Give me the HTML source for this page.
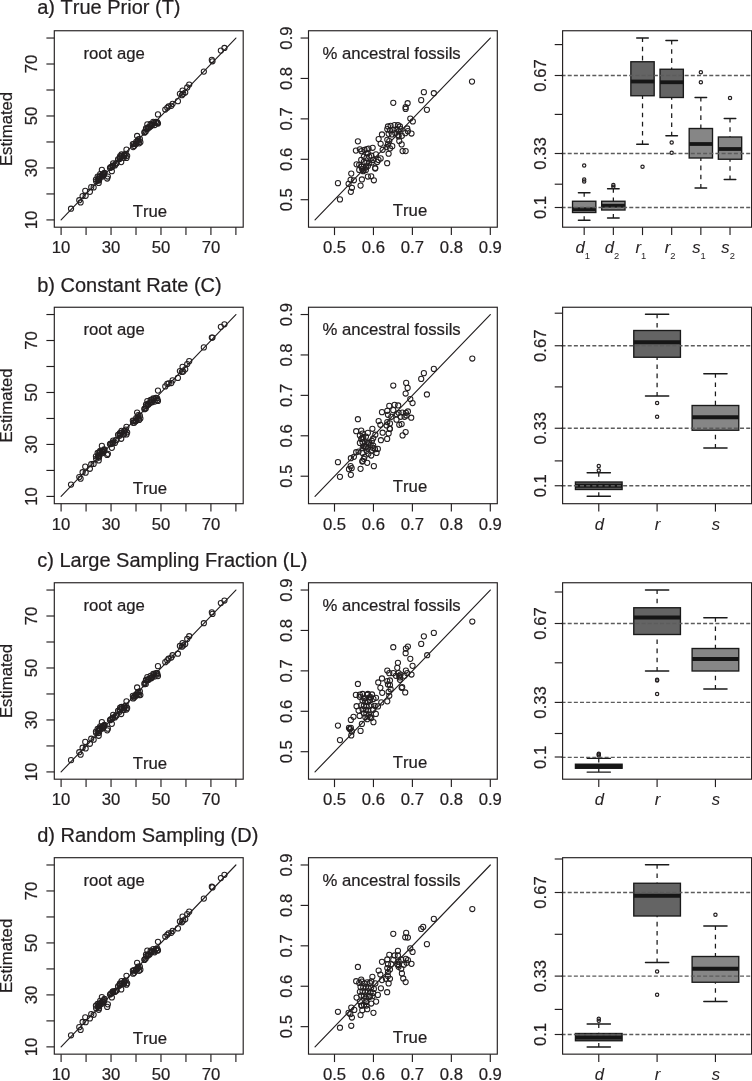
<!DOCTYPE html>
<html lang="en">
<head>
<meta charset="utf-8">
<title>Figure</title>
<style>
html,body{margin:0;padding:0;background:#fff;}
body{width:752px;height:1081px;overflow:hidden;font-family:"Liberation Sans",sans-serif;}
svg{display:block;will-change:transform;font-kerning:none;}
</style>
</head>
<body>
<svg width="752" height="1081" viewBox="0 0 752 1081" font-family="'Liberation Sans', sans-serif" fill="#231f20">
<style>text{stroke:#231f20;stroke-width:0.22px;}text[font-style=italic]{stroke-width:0.05px;}text[font-style=italic] tspan{stroke-width:0;}</style>
<rect x="0" y="0" width="752" height="1081" fill="#ffffff"/>
<text x="37.2" y="14.3" font-size="20.0" text-anchor="start">a) True Prior (T)</text>
<line x1="61.1" y1="219.92" x2="235.89" y2="38.03" stroke="#231f20" stroke-width="1.15" stroke-linecap="round"/>
<circle cx="220.86" cy="50.61" r="2.6" fill="none" stroke="#231f20" stroke-width="1.05"/>
<circle cx="224.45" cy="47.95" r="2.6" fill="none" stroke="#231f20" stroke-width="1.05"/>
<circle cx="211.82" cy="59.92" r="2.6" fill="none" stroke="#231f20" stroke-width="1.05"/>
<circle cx="212.48" cy="61.25" r="2.6" fill="none" stroke="#231f20" stroke-width="1.05"/>
<circle cx="203.84" cy="71.62" r="2.6" fill="none" stroke="#231f20" stroke-width="1.05"/>
<circle cx="189.21" cy="84.52" r="2.6" fill="none" stroke="#231f20" stroke-width="1.05"/>
<circle cx="187.22" cy="87.45" r="2.6" fill="none" stroke="#231f20" stroke-width="1.05"/>
<circle cx="185.22" cy="92.5" r="2.6" fill="none" stroke="#231f20" stroke-width="1.05"/>
<circle cx="182.56" cy="90.51" r="2.6" fill="none" stroke="#231f20" stroke-width="1.05"/>
<circle cx="179.9" cy="93.83" r="2.6" fill="none" stroke="#231f20" stroke-width="1.05"/>
<circle cx="181.9" cy="95.16" r="2.6" fill="none" stroke="#231f20" stroke-width="1.05"/>
<circle cx="183.23" cy="93.83" r="2.6" fill="none" stroke="#231f20" stroke-width="1.05"/>
<circle cx="177.91" cy="101.14" r="2.6" fill="none" stroke="#231f20" stroke-width="1.05"/>
<circle cx="172.59" cy="103.8" r="2.6" fill="none" stroke="#231f20" stroke-width="1.05"/>
<circle cx="171.26" cy="105.8" r="2.6" fill="none" stroke="#231f20" stroke-width="1.05"/>
<circle cx="168.6" cy="106.46" r="2.6" fill="none" stroke="#231f20" stroke-width="1.05"/>
<circle cx="167.27" cy="107.79" r="2.6" fill="none" stroke="#231f20" stroke-width="1.05"/>
<circle cx="165.28" cy="109.52" r="2.6" fill="none" stroke="#231f20" stroke-width="1.05"/>
<circle cx="157.96" cy="114.44" r="2.6" fill="none" stroke="#231f20" stroke-width="1.05"/>
<circle cx="157.3" cy="123.09" r="2.6" fill="none" stroke="#231f20" stroke-width="1.05"/>
<circle cx="155.97" cy="121.76" r="2.6" fill="none" stroke="#231f20" stroke-width="1.05"/>
<circle cx="153.31" cy="121.76" r="2.6" fill="none" stroke="#231f20" stroke-width="1.05"/>
<circle cx="150.65" cy="123.75" r="2.6" fill="none" stroke="#231f20" stroke-width="1.05"/>
<circle cx="147.32" cy="124.41" r="2.6" fill="none" stroke="#231f20" stroke-width="1.05"/>
<circle cx="151.98" cy="125.08" r="2.6" fill="none" stroke="#231f20" stroke-width="1.05"/>
<circle cx="148.65" cy="127.07" r="2.6" fill="none" stroke="#231f20" stroke-width="1.05"/>
<circle cx="145.99" cy="128.4" r="2.6" fill="none" stroke="#231f20" stroke-width="1.05"/>
<circle cx="71.02" cy="208.72" r="2.6" fill="none" stroke="#231f20" stroke-width="1.05"/>
<circle cx="79.27" cy="200.21" r="2.6" fill="none" stroke="#231f20" stroke-width="1.05"/>
<circle cx="80.6" cy="202.47" r="2.6" fill="none" stroke="#231f20" stroke-width="1.05"/>
<circle cx="82.59" cy="196.09" r="2.6" fill="none" stroke="#231f20" stroke-width="1.05"/>
<circle cx="85.65" cy="195.82" r="2.6" fill="none" stroke="#231f20" stroke-width="1.05"/>
<circle cx="85.25" cy="190.77" r="2.6" fill="none" stroke="#231f20" stroke-width="1.05"/>
<circle cx="89.9" cy="191.84" r="2.6" fill="none" stroke="#231f20" stroke-width="1.05"/>
<circle cx="91.23" cy="187.18" r="2.6" fill="none" stroke="#231f20" stroke-width="1.05"/>
<circle cx="93.63" cy="187.45" r="2.6" fill="none" stroke="#231f20" stroke-width="1.05"/>
<circle cx="101.87" cy="169.89" r="2.6" fill="none" stroke="#231f20" stroke-width="1.05"/>
<circle cx="107.19" cy="178.54" r="2.6" fill="none" stroke="#231f20" stroke-width="1.05"/>
<circle cx="107.86" cy="176.54" r="2.6" fill="none" stroke="#231f20" stroke-width="1.05"/>
<circle cx="111.85" cy="171.22" r="2.6" fill="none" stroke="#231f20" stroke-width="1.05"/>
<circle cx="126.47" cy="149.68" r="2.6" fill="none" stroke="#231f20" stroke-width="1.05"/>
<circle cx="126.47" cy="157.93" r="2.6" fill="none" stroke="#231f20" stroke-width="1.05"/>
<circle cx="137.11" cy="135.98" r="2.6" fill="none" stroke="#231f20" stroke-width="1.05"/>
<circle cx="139.11" cy="143.3" r="2.6" fill="none" stroke="#231f20" stroke-width="1.05"/>
<circle cx="144.43" cy="132.66" r="2.6" fill="none" stroke="#231f20" stroke-width="1.05"/>
<circle cx="144.62" cy="131.96" r="2.6" fill="none" stroke="#231f20" stroke-width="1.05"/>
<circle cx="145.78" cy="131.59" r="2.6" fill="none" stroke="#231f20" stroke-width="1.05"/>
<circle cx="146.26" cy="129.08" r="2.6" fill="none" stroke="#231f20" stroke-width="1.05"/>
<circle cx="147.82" cy="128.66" r="2.6" fill="none" stroke="#231f20" stroke-width="1.05"/>
<circle cx="147.91" cy="127.66" r="2.6" fill="none" stroke="#231f20" stroke-width="1.05"/>
<circle cx="149.57" cy="127.18" r="2.6" fill="none" stroke="#231f20" stroke-width="1.05"/>
<circle cx="151.2" cy="126.09" r="2.6" fill="none" stroke="#231f20" stroke-width="1.05"/>
<circle cx="151.53" cy="124.78" r="2.6" fill="none" stroke="#231f20" stroke-width="1.05"/>
<circle cx="154.65" cy="125.04" r="2.6" fill="none" stroke="#231f20" stroke-width="1.05"/>
<circle cx="154.09" cy="122.91" r="2.6" fill="none" stroke="#231f20" stroke-width="1.05"/>
<circle cx="157.96" cy="123.55" r="2.6" fill="none" stroke="#231f20" stroke-width="1.05"/>
<circle cx="157.17" cy="122.12" r="2.6" fill="none" stroke="#231f20" stroke-width="1.05"/>
<circle cx="133.15" cy="147.07" r="2.6" fill="none" stroke="#231f20" stroke-width="1.05"/>
<circle cx="134.2" cy="146" r="2.6" fill="none" stroke="#231f20" stroke-width="1.05"/>
<circle cx="132.85" cy="144.19" r="2.6" fill="none" stroke="#231f20" stroke-width="1.05"/>
<circle cx="134.11" cy="143.94" r="2.6" fill="none" stroke="#231f20" stroke-width="1.05"/>
<circle cx="135.78" cy="144.12" r="2.6" fill="none" stroke="#231f20" stroke-width="1.05"/>
<circle cx="136.05" cy="143.55" r="2.6" fill="none" stroke="#231f20" stroke-width="1.05"/>
<circle cx="136.22" cy="141.85" r="2.6" fill="none" stroke="#231f20" stroke-width="1.05"/>
<circle cx="137.83" cy="142.32" r="2.6" fill="none" stroke="#231f20" stroke-width="1.05"/>
<circle cx="137.59" cy="140.98" r="2.6" fill="none" stroke="#231f20" stroke-width="1.05"/>
<circle cx="140.37" cy="142.18" r="2.6" fill="none" stroke="#231f20" stroke-width="1.05"/>
<circle cx="138.29" cy="139.41" r="2.6" fill="none" stroke="#231f20" stroke-width="1.05"/>
<circle cx="139.84" cy="138.89" r="2.6" fill="none" stroke="#231f20" stroke-width="1.05"/>
<circle cx="118.04" cy="159.27" r="2.6" fill="none" stroke="#231f20" stroke-width="1.05"/>
<circle cx="121.23" cy="162.05" r="2.6" fill="none" stroke="#231f20" stroke-width="1.05"/>
<circle cx="119.62" cy="159.07" r="2.6" fill="none" stroke="#231f20" stroke-width="1.05"/>
<circle cx="119.72" cy="158.03" r="2.6" fill="none" stroke="#231f20" stroke-width="1.05"/>
<circle cx="119.81" cy="157.54" r="2.6" fill="none" stroke="#231f20" stroke-width="1.05"/>
<circle cx="120.13" cy="156.24" r="2.6" fill="none" stroke="#231f20" stroke-width="1.05"/>
<circle cx="121.65" cy="156.38" r="2.6" fill="none" stroke="#231f20" stroke-width="1.05"/>
<circle cx="123.84" cy="157.81" r="2.6" fill="none" stroke="#231f20" stroke-width="1.05"/>
<circle cx="121.55" cy="154.48" r="2.6" fill="none" stroke="#231f20" stroke-width="1.05"/>
<circle cx="124.41" cy="155.9" r="2.6" fill="none" stroke="#231f20" stroke-width="1.05"/>
<circle cx="124.1" cy="155.03" r="2.6" fill="none" stroke="#231f20" stroke-width="1.05"/>
<circle cx="124.7" cy="154.33" r="2.6" fill="none" stroke="#231f20" stroke-width="1.05"/>
<circle cx="127.14" cy="155.77" r="2.6" fill="none" stroke="#231f20" stroke-width="1.05"/>
<circle cx="125.82" cy="153.77" r="2.6" fill="none" stroke="#231f20" stroke-width="1.05"/>
<circle cx="109.99" cy="167.96" r="2.6" fill="none" stroke="#231f20" stroke-width="1.05"/>
<circle cx="110.69" cy="167.21" r="2.6" fill="none" stroke="#231f20" stroke-width="1.05"/>
<circle cx="111.59" cy="167.15" r="2.6" fill="none" stroke="#231f20" stroke-width="1.05"/>
<circle cx="112.73" cy="166.12" r="2.6" fill="none" stroke="#231f20" stroke-width="1.05"/>
<circle cx="112.8" cy="165.7" r="2.6" fill="none" stroke="#231f20" stroke-width="1.05"/>
<circle cx="114.91" cy="165.45" r="2.6" fill="none" stroke="#231f20" stroke-width="1.05"/>
<circle cx="113.14" cy="163.4" r="2.6" fill="none" stroke="#231f20" stroke-width="1.05"/>
<circle cx="115.84" cy="163.65" r="2.6" fill="none" stroke="#231f20" stroke-width="1.05"/>
<circle cx="116.63" cy="163.18" r="2.6" fill="none" stroke="#231f20" stroke-width="1.05"/>
<circle cx="96.14" cy="181.27" r="2.6" fill="none" stroke="#231f20" stroke-width="1.05"/>
<circle cx="98.72" cy="183" r="2.6" fill="none" stroke="#231f20" stroke-width="1.05"/>
<circle cx="95.95" cy="179.51" r="2.6" fill="none" stroke="#231f20" stroke-width="1.05"/>
<circle cx="97.92" cy="180.56" r="2.6" fill="none" stroke="#231f20" stroke-width="1.05"/>
<circle cx="99.04" cy="180.5" r="2.6" fill="none" stroke="#231f20" stroke-width="1.05"/>
<circle cx="98.87" cy="179.34" r="2.6" fill="none" stroke="#231f20" stroke-width="1.05"/>
<circle cx="99.31" cy="179.03" r="2.6" fill="none" stroke="#231f20" stroke-width="1.05"/>
<circle cx="97.65" cy="176.52" r="2.6" fill="none" stroke="#231f20" stroke-width="1.05"/>
<circle cx="99.32" cy="177" r="2.6" fill="none" stroke="#231f20" stroke-width="1.05"/>
<circle cx="99.57" cy="176.51" r="2.6" fill="none" stroke="#231f20" stroke-width="1.05"/>
<circle cx="99.89" cy="176.34" r="2.6" fill="none" stroke="#231f20" stroke-width="1.05"/>
<circle cx="101.89" cy="176.68" r="2.6" fill="none" stroke="#231f20" stroke-width="1.05"/>
<circle cx="100.19" cy="174.17" r="2.6" fill="none" stroke="#231f20" stroke-width="1.05"/>
<circle cx="101.86" cy="175.31" r="2.6" fill="none" stroke="#231f20" stroke-width="1.05"/>
<circle cx="102.96" cy="175.29" r="2.6" fill="none" stroke="#231f20" stroke-width="1.05"/>
<circle cx="103.45" cy="175.39" r="2.6" fill="none" stroke="#231f20" stroke-width="1.05"/>
<circle cx="103.61" cy="174.57" r="2.6" fill="none" stroke="#231f20" stroke-width="1.05"/>
<circle cx="103.89" cy="173.78" r="2.6" fill="none" stroke="#231f20" stroke-width="1.05"/>
<circle cx="104.22" cy="173.38" r="2.6" fill="none" stroke="#231f20" stroke-width="1.05"/>
<circle cx="104.49" cy="172.8" r="2.6" fill="none" stroke="#231f20" stroke-width="1.05"/>
<rect x="54.3" y="30.75" width="188.9" height="196.45" fill="none" stroke="#231f20" stroke-width="1.15"/>
<line x1="61.1" y1="227.2" x2="61.1" y2="235.1" stroke="#231f20" stroke-width="1.15"/>
<line x1="46.4" y1="219.92" x2="54.3" y2="219.92" stroke="#231f20" stroke-width="1.15"/>
<text x="61.1" y="253.4" font-size="16.7" text-anchor="middle">10</text>
<text x="37.4" y="219.92" font-size="16.7" text-anchor="middle" transform="rotate(-90 37.4 219.92)">10</text>
<line x1="86.07" y1="227.2" x2="86.07" y2="235.1" stroke="#231f20" stroke-width="1.15"/>
<line x1="46.4" y1="193.94" x2="54.3" y2="193.94" stroke="#231f20" stroke-width="1.15"/>
<line x1="111.04" y1="227.2" x2="111.04" y2="235.1" stroke="#231f20" stroke-width="1.15"/>
<line x1="46.4" y1="167.95" x2="54.3" y2="167.95" stroke="#231f20" stroke-width="1.15"/>
<text x="111.04" y="253.4" font-size="16.7" text-anchor="middle">30</text>
<text x="37.4" y="167.95" font-size="16.7" text-anchor="middle" transform="rotate(-90 37.4 167.95)">30</text>
<line x1="136.01" y1="227.2" x2="136.01" y2="235.1" stroke="#231f20" stroke-width="1.15"/>
<line x1="46.4" y1="141.97" x2="54.3" y2="141.97" stroke="#231f20" stroke-width="1.15"/>
<line x1="160.98" y1="227.2" x2="160.98" y2="235.1" stroke="#231f20" stroke-width="1.15"/>
<line x1="46.4" y1="115.98" x2="54.3" y2="115.98" stroke="#231f20" stroke-width="1.15"/>
<text x="160.98" y="253.4" font-size="16.7" text-anchor="middle">50</text>
<text x="37.4" y="115.98" font-size="16.7" text-anchor="middle" transform="rotate(-90 37.4 115.98)">50</text>
<line x1="185.95" y1="227.2" x2="185.95" y2="235.1" stroke="#231f20" stroke-width="1.15"/>
<line x1="46.4" y1="90" x2="54.3" y2="90" stroke="#231f20" stroke-width="1.15"/>
<line x1="210.92" y1="227.2" x2="210.92" y2="235.1" stroke="#231f20" stroke-width="1.15"/>
<line x1="46.4" y1="64.01" x2="54.3" y2="64.01" stroke="#231f20" stroke-width="1.15"/>
<text x="210.92" y="253.4" font-size="16.7" text-anchor="middle">70</text>
<text x="37.4" y="64.01" font-size="16.7" text-anchor="middle" transform="rotate(-90 37.4 64.01)">70</text>
<line x1="235.89" y1="227.2" x2="235.89" y2="235.1" stroke="#231f20" stroke-width="1.15"/>
<line x1="46.4" y1="38.03" x2="54.3" y2="38.03" stroke="#231f20" stroke-width="1.15"/>
<text x="12.2" y="128.97" font-size="16.7" text-anchor="middle" transform="rotate(-90 12.2 128.97)">Estimated</text>
<text x="83.5" y="58.65" font-size="16.7" text-anchor="start">root age</text>
<text x="149.9" y="217.3" font-size="16.7" text-anchor="middle">True</text>
<line x1="315.02" y1="219.92" x2="490.3" y2="38.03" stroke="#231f20" stroke-width="1.15" stroke-linecap="round"/>
<circle cx="337.95" cy="183.19" r="2.6" fill="none" stroke="#231f20" stroke-width="1.05"/>
<circle cx="339.95" cy="199.41" r="2.6" fill="none" stroke="#231f20" stroke-width="1.05"/>
<circle cx="348.59" cy="183.86" r="2.6" fill="none" stroke="#231f20" stroke-width="1.05"/>
<circle cx="351.25" cy="173.62" r="2.6" fill="none" stroke="#231f20" stroke-width="1.05"/>
<circle cx="350.59" cy="179.87" r="2.6" fill="none" stroke="#231f20" stroke-width="1.05"/>
<circle cx="353.91" cy="180.27" r="2.6" fill="none" stroke="#231f20" stroke-width="1.05"/>
<circle cx="351.91" cy="187.85" r="2.6" fill="none" stroke="#231f20" stroke-width="1.05"/>
<circle cx="350.85" cy="191.84" r="2.6" fill="none" stroke="#231f20" stroke-width="1.05"/>
<circle cx="360.56" cy="185.59" r="2.6" fill="none" stroke="#231f20" stroke-width="1.05"/>
<circle cx="361.89" cy="179.47" r="2.6" fill="none" stroke="#231f20" stroke-width="1.05"/>
<circle cx="357.9" cy="141.3" r="2.6" fill="none" stroke="#231f20" stroke-width="1.05"/>
<circle cx="355.9" cy="150.61" r="2.6" fill="none" stroke="#231f20" stroke-width="1.05"/>
<circle cx="359.89" cy="149.28" r="2.6" fill="none" stroke="#231f20" stroke-width="1.05"/>
<circle cx="356.57" cy="164.31" r="2.6" fill="none" stroke="#231f20" stroke-width="1.05"/>
<circle cx="359.23" cy="169.89" r="2.6" fill="none" stroke="#231f20" stroke-width="1.05"/>
<circle cx="367.87" cy="176.54" r="2.6" fill="none" stroke="#231f20" stroke-width="1.05"/>
<circle cx="371.2" cy="176.28" r="2.6" fill="none" stroke="#231f20" stroke-width="1.05"/>
<circle cx="373.86" cy="180.27" r="2.6" fill="none" stroke="#231f20" stroke-width="1.05"/>
<circle cx="375.19" cy="167.9" r="2.6" fill="none" stroke="#231f20" stroke-width="1.05"/>
<circle cx="368.54" cy="148.62" r="2.6" fill="none" stroke="#231f20" stroke-width="1.05"/>
<circle cx="387.15" cy="163.24" r="2.6" fill="none" stroke="#231f20" stroke-width="1.05"/>
<circle cx="361.5" cy="151.2" r="2.6" fill="none" stroke="#231f20" stroke-width="1.05"/>
<circle cx="366.5" cy="153.28" r="2.6" fill="none" stroke="#231f20" stroke-width="1.05"/>
<circle cx="367.86" cy="153.28" r="2.6" fill="none" stroke="#231f20" stroke-width="1.05"/>
<circle cx="363.88" cy="156.6" r="2.6" fill="none" stroke="#231f20" stroke-width="1.05"/>
<circle cx="366.54" cy="157.93" r="2.6" fill="none" stroke="#231f20" stroke-width="1.05"/>
<circle cx="369.2" cy="156.6" r="2.6" fill="none" stroke="#231f20" stroke-width="1.05"/>
<circle cx="373.19" cy="159.92" r="2.6" fill="none" stroke="#231f20" stroke-width="1.05"/>
<circle cx="361.22" cy="159.92" r="2.6" fill="none" stroke="#231f20" stroke-width="1.05"/>
<circle cx="363.88" cy="161.91" r="2.6" fill="none" stroke="#231f20" stroke-width="1.05"/>
<circle cx="366.54" cy="162.58" r="2.6" fill="none" stroke="#231f20" stroke-width="1.05"/>
<circle cx="369.2" cy="163.24" r="2.6" fill="none" stroke="#231f20" stroke-width="1.05"/>
<circle cx="371.86" cy="162.58" r="2.6" fill="none" stroke="#231f20" stroke-width="1.05"/>
<circle cx="359.16" cy="164.84" r="2.6" fill="none" stroke="#231f20" stroke-width="1.05"/>
<circle cx="361.35" cy="166.49" r="2.6" fill="none" stroke="#231f20" stroke-width="1.05"/>
<circle cx="365.89" cy="167.37" r="2.6" fill="none" stroke="#231f20" stroke-width="1.05"/>
<circle cx="367.87" cy="165.9" r="2.6" fill="none" stroke="#231f20" stroke-width="1.05"/>
<circle cx="363.56" cy="170.14" r="2.6" fill="none" stroke="#231f20" stroke-width="1.05"/>
<circle cx="362.2" cy="169.2" r="2.6" fill="none" stroke="#231f20" stroke-width="1.05"/>
<circle cx="365.88" cy="169.89" r="2.6" fill="none" stroke="#231f20" stroke-width="1.05"/>
<circle cx="363.22" cy="171.22" r="2.6" fill="none" stroke="#231f20" stroke-width="1.05"/>
<circle cx="377.18" cy="161.91" r="2.6" fill="none" stroke="#231f20" stroke-width="1.05"/>
<circle cx="378.51" cy="159.92" r="2.6" fill="none" stroke="#231f20" stroke-width="1.05"/>
<circle cx="366.84" cy="149.15" r="2.6" fill="none" stroke="#231f20" stroke-width="1.05"/>
<circle cx="364.55" cy="149.95" r="2.6" fill="none" stroke="#231f20" stroke-width="1.05"/>
<circle cx="375.19" cy="168.56" r="2.6" fill="none" stroke="#231f20" stroke-width="1.05"/>
<circle cx="361.71" cy="166.7" r="2.6" fill="none" stroke="#231f20" stroke-width="1.05"/>
<circle cx="423.86" cy="92.18" r="2.6" fill="none" stroke="#231f20" stroke-width="1.05"/>
<circle cx="433.83" cy="93.24" r="2.6" fill="none" stroke="#231f20" stroke-width="1.05"/>
<circle cx="421.2" cy="100.16" r="2.6" fill="none" stroke="#231f20" stroke-width="1.05"/>
<circle cx="426.91" cy="109.87" r="2.6" fill="none" stroke="#231f20" stroke-width="1.05"/>
<circle cx="393.27" cy="102.82" r="2.6" fill="none" stroke="#231f20" stroke-width="1.05"/>
<circle cx="407.63" cy="103.22" r="2.6" fill="none" stroke="#231f20" stroke-width="1.05"/>
<circle cx="405.64" cy="107.21" r="2.6" fill="none" stroke="#231f20" stroke-width="1.05"/>
<circle cx="405.64" cy="108.94" r="2.6" fill="none" stroke="#231f20" stroke-width="1.05"/>
<circle cx="410.29" cy="118.51" r="2.6" fill="none" stroke="#231f20" stroke-width="1.05"/>
<circle cx="412.82" cy="121.44" r="2.6" fill="none" stroke="#231f20" stroke-width="1.05"/>
<circle cx="411.49" cy="133.54" r="2.6" fill="none" stroke="#231f20" stroke-width="1.05"/>
<circle cx="387.95" cy="126.49" r="2.6" fill="none" stroke="#231f20" stroke-width="1.05"/>
<circle cx="390.61" cy="125.82" r="2.6" fill="none" stroke="#231f20" stroke-width="1.05"/>
<circle cx="394.6" cy="125.16" r="2.6" fill="none" stroke="#231f20" stroke-width="1.05"/>
<circle cx="397.93" cy="125.16" r="2.6" fill="none" stroke="#231f20" stroke-width="1.05"/>
<circle cx="399.92" cy="126.49" r="2.6" fill="none" stroke="#231f20" stroke-width="1.05"/>
<circle cx="387.29" cy="129.15" r="2.6" fill="none" stroke="#231f20" stroke-width="1.05"/>
<circle cx="389.95" cy="130.48" r="2.6" fill="none" stroke="#231f20" stroke-width="1.05"/>
<circle cx="393.27" cy="129.81" r="2.6" fill="none" stroke="#231f20" stroke-width="1.05"/>
<circle cx="396.6" cy="129.15" r="2.6" fill="none" stroke="#231f20" stroke-width="1.05"/>
<circle cx="400.59" cy="129.15" r="2.6" fill="none" stroke="#231f20" stroke-width="1.05"/>
<circle cx="407.23" cy="128.48" r="2.6" fill="none" stroke="#231f20" stroke-width="1.05"/>
<circle cx="407.9" cy="131.14" r="2.6" fill="none" stroke="#231f20" stroke-width="1.05"/>
<circle cx="405.24" cy="133.14" r="2.6" fill="none" stroke="#231f20" stroke-width="1.05"/>
<circle cx="398.62" cy="131.25" r="2.6" fill="none" stroke="#231f20" stroke-width="1.05"/>
<circle cx="398.39" cy="135.09" r="2.6" fill="none" stroke="#231f20" stroke-width="1.05"/>
<circle cx="395.27" cy="133.14" r="2.6" fill="none" stroke="#231f20" stroke-width="1.05"/>
<circle cx="391.94" cy="134.47" r="2.6" fill="none" stroke="#231f20" stroke-width="1.05"/>
<circle cx="388.62" cy="133.8" r="2.6" fill="none" stroke="#231f20" stroke-width="1.05"/>
<circle cx="398.59" cy="136.46" r="2.6" fill="none" stroke="#231f20" stroke-width="1.05"/>
<circle cx="401.91" cy="135.8" r="2.6" fill="none" stroke="#231f20" stroke-width="1.05"/>
<circle cx="381.97" cy="134.47" r="2.6" fill="none" stroke="#231f20" stroke-width="1.05"/>
<circle cx="378.64" cy="139.12" r="2.6" fill="none" stroke="#231f20" stroke-width="1.05"/>
<circle cx="380.64" cy="143.78" r="2.6" fill="none" stroke="#231f20" stroke-width="1.05"/>
<circle cx="382.63" cy="149.76" r="2.6" fill="none" stroke="#231f20" stroke-width="1.05"/>
<circle cx="387.29" cy="139.79" r="2.6" fill="none" stroke="#231f20" stroke-width="1.05"/>
<circle cx="389.28" cy="141.12" r="2.6" fill="none" stroke="#231f20" stroke-width="1.05"/>
<circle cx="387.95" cy="144.44" r="2.6" fill="none" stroke="#231f20" stroke-width="1.05"/>
<circle cx="392.26" cy="146.13" r="2.6" fill="none" stroke="#231f20" stroke-width="1.05"/>
<circle cx="386.62" cy="147.1" r="2.6" fill="none" stroke="#231f20" stroke-width="1.05"/>
<circle cx="389.95" cy="148.43" r="2.6" fill="none" stroke="#231f20" stroke-width="1.05"/>
<circle cx="399.26" cy="141.12" r="2.6" fill="none" stroke="#231f20" stroke-width="1.05"/>
<circle cx="401.65" cy="144.44" r="2.6" fill="none" stroke="#231f20" stroke-width="1.05"/>
<circle cx="402.58" cy="151.09" r="2.6" fill="none" stroke="#231f20" stroke-width="1.05"/>
<circle cx="405.64" cy="151.09" r="2.6" fill="none" stroke="#231f20" stroke-width="1.05"/>
<circle cx="388.62" cy="153.75" r="2.6" fill="none" stroke="#231f20" stroke-width="1.05"/>
<circle cx="372.66" cy="147.77" r="2.6" fill="none" stroke="#231f20" stroke-width="1.05"/>
<circle cx="375.98" cy="154.41" r="2.6" fill="none" stroke="#231f20" stroke-width="1.05"/>
<circle cx="380.64" cy="158.4" r="2.6" fill="none" stroke="#231f20" stroke-width="1.05"/>
<circle cx="371.33" cy="155.74" r="2.6" fill="none" stroke="#231f20" stroke-width="1.05"/>
<circle cx="472" cy="81.6" r="2.6" fill="none" stroke="#231f20" stroke-width="1.05"/>
<rect x="308.5" y="30.75" width="188.8" height="196.45" fill="none" stroke="#231f20" stroke-width="1.15"/>
<line x1="334.5" y1="227.2" x2="334.5" y2="235.1" stroke="#231f20" stroke-width="1.15"/>
<line x1="300.6" y1="199.71" x2="308.5" y2="199.71" stroke="#231f20" stroke-width="1.15"/>
<text x="334.5" y="253.4" font-size="16.7" text-anchor="middle">0.5</text>
<text x="291.6" y="199.71" font-size="16.7" text-anchor="middle" transform="rotate(-90 291.6 199.71)">0.5</text>
<line x1="373.45" y1="227.2" x2="373.45" y2="235.1" stroke="#231f20" stroke-width="1.15"/>
<line x1="300.6" y1="159.29" x2="308.5" y2="159.29" stroke="#231f20" stroke-width="1.15"/>
<text x="373.45" y="253.4" font-size="16.7" text-anchor="middle">0.6</text>
<text x="291.6" y="159.29" font-size="16.7" text-anchor="middle" transform="rotate(-90 291.6 159.29)">0.6</text>
<line x1="412.4" y1="227.2" x2="412.4" y2="235.1" stroke="#231f20" stroke-width="1.15"/>
<line x1="300.6" y1="118.87" x2="308.5" y2="118.87" stroke="#231f20" stroke-width="1.15"/>
<text x="412.4" y="253.4" font-size="16.7" text-anchor="middle">0.7</text>
<text x="291.6" y="118.87" font-size="16.7" text-anchor="middle" transform="rotate(-90 291.6 118.87)">0.7</text>
<line x1="451.35" y1="227.2" x2="451.35" y2="235.1" stroke="#231f20" stroke-width="1.15"/>
<line x1="300.6" y1="78.45" x2="308.5" y2="78.45" stroke="#231f20" stroke-width="1.15"/>
<text x="451.35" y="253.4" font-size="16.7" text-anchor="middle">0.8</text>
<text x="291.6" y="78.45" font-size="16.7" text-anchor="middle" transform="rotate(-90 291.6 78.45)">0.8</text>
<line x1="490.3" y1="227.2" x2="490.3" y2="235.1" stroke="#231f20" stroke-width="1.15"/>
<line x1="300.6" y1="38.03" x2="308.5" y2="38.03" stroke="#231f20" stroke-width="1.15"/>
<text x="490.3" y="253.4" font-size="16.7" text-anchor="middle">0.9</text>
<text x="291.6" y="38.03" font-size="16.7" text-anchor="middle" transform="rotate(-90 291.6 38.03)">0.9</text>
<text x="322.5" y="58.85" font-size="16.7" text-anchor="start">% ancestral fossils</text>
<text x="410" y="215.9" font-size="16.7" text-anchor="middle">True</text>
<path d="M584.18 192.75V201.25 M584.18 220.25V212.5" fill="none" stroke="#1a1a1a" stroke-width="1.25" stroke-dasharray="4.6 4.55" stroke-dashoffset="0.5"/>
<line x1="578.35" y1="192.75" x2="590.02" y2="192.75" stroke="#1a1a1a" stroke-width="1.3" stroke-linecap="round"/>
<line x1="578.35" y1="220.25" x2="590.02" y2="220.25" stroke="#1a1a1a" stroke-width="1.3" stroke-linecap="round"/>
<rect x="572.52" y="201.25" width="23.33" height="11.25" fill="#868686" stroke="#1a1a1a" stroke-width="1.35"/>
<line x1="572.52" y1="209.25" x2="595.85" y2="209.25" stroke="#161616" stroke-width="3.8"/>
<circle cx="584.18" cy="165.5" r="1.65" fill="none" stroke="#231f20" stroke-width="1.2"/>
<circle cx="584.18" cy="179.5" r="1.65" fill="none" stroke="#231f20" stroke-width="1.2"/>
<circle cx="584.18" cy="181.5" r="1.65" fill="none" stroke="#231f20" stroke-width="1.2"/>
<line x1="584.18" y1="227.2" x2="584.18" y2="235.1" stroke="#231f20" stroke-width="1.15"/>
<text x="575.53" y="253.4" font-size="16.7" text-anchor="start" font-style="italic">d<tspan font-size="9.4" font-style="normal" dy="5.6">1</tspan></text>
<path d="M613.35 188.75V201.25 M613.35 218V210" fill="none" stroke="#1a1a1a" stroke-width="1.25" stroke-dasharray="4.6 4.55" stroke-dashoffset="0.5"/>
<line x1="607.52" y1="188.75" x2="619.18" y2="188.75" stroke="#1a1a1a" stroke-width="1.3" stroke-linecap="round"/>
<line x1="607.52" y1="218" x2="619.18" y2="218" stroke="#1a1a1a" stroke-width="1.3" stroke-linecap="round"/>
<rect x="601.68" y="201.25" width="23.33" height="8.75" fill="#868686" stroke="#1a1a1a" stroke-width="1.35"/>
<line x1="601.68" y1="205.75" x2="625.02" y2="205.75" stroke="#161616" stroke-width="3.8"/>
<circle cx="613.35" cy="185" r="1.65" fill="none" stroke="#231f20" stroke-width="1.2"/>
<circle cx="613.35" cy="186.75" r="1.65" fill="none" stroke="#231f20" stroke-width="1.2"/>
<line x1="613.35" y1="227.2" x2="613.35" y2="235.1" stroke="#231f20" stroke-width="1.15"/>
<text x="604.7" y="253.4" font-size="16.7" text-anchor="start" font-style="italic">d<tspan font-size="9.4" font-style="normal" dy="5.6">2</tspan></text>
<path d="M642.52 38V61.75 M642.52 144.25V95.75" fill="none" stroke="#1a1a1a" stroke-width="1.25" stroke-dasharray="4.6 4.55" stroke-dashoffset="0.5"/>
<line x1="636.68" y1="38" x2="648.35" y2="38" stroke="#1a1a1a" stroke-width="1.3" stroke-linecap="round"/>
<line x1="636.68" y1="144.25" x2="648.35" y2="144.25" stroke="#1a1a1a" stroke-width="1.3" stroke-linecap="round"/>
<rect x="630.85" y="61.75" width="23.33" height="34" fill="#646464" stroke="#1a1a1a" stroke-width="1.35"/>
<line x1="630.85" y1="81.5" x2="654.18" y2="81.5" stroke="#161616" stroke-width="3.8"/>
<circle cx="642.52" cy="166.75" r="1.65" fill="none" stroke="#231f20" stroke-width="1.2"/>
<line x1="642.52" y1="227.2" x2="642.52" y2="235.1" stroke="#231f20" stroke-width="1.15"/>
<text x="635.52" y="253.4" font-size="16.7" text-anchor="start" font-style="italic">r<tspan font-size="9.4" font-style="normal" dy="5.6">1</tspan></text>
<path d="M671.68 40.5V69.25 M671.68 135.75V97.5" fill="none" stroke="#1a1a1a" stroke-width="1.25" stroke-dasharray="4.6 4.55" stroke-dashoffset="0.5"/>
<line x1="665.85" y1="40.5" x2="677.52" y2="40.5" stroke="#1a1a1a" stroke-width="1.3" stroke-linecap="round"/>
<line x1="665.85" y1="135.75" x2="677.52" y2="135.75" stroke="#1a1a1a" stroke-width="1.3" stroke-linecap="round"/>
<rect x="660.02" y="69.25" width="23.33" height="28.25" fill="#646464" stroke="#1a1a1a" stroke-width="1.35"/>
<line x1="660.02" y1="82.25" x2="683.35" y2="82.25" stroke="#161616" stroke-width="3.8"/>
<circle cx="671.68" cy="142.5" r="1.65" fill="none" stroke="#231f20" stroke-width="1.2"/>
<circle cx="671.68" cy="152.75" r="1.65" fill="none" stroke="#231f20" stroke-width="1.2"/>
<line x1="671.68" y1="227.2" x2="671.68" y2="235.1" stroke="#231f20" stroke-width="1.15"/>
<text x="664.68" y="253.4" font-size="16.7" text-anchor="start" font-style="italic">r<tspan font-size="9.4" font-style="normal" dy="5.6">2</tspan></text>
<path d="M700.85 97.5V128.5 M700.85 188V158" fill="none" stroke="#1a1a1a" stroke-width="1.25" stroke-dasharray="4.6 4.55" stroke-dashoffset="0.5"/>
<line x1="695.02" y1="97.5" x2="706.68" y2="97.5" stroke="#1a1a1a" stroke-width="1.3" stroke-linecap="round"/>
<line x1="695.02" y1="188" x2="706.68" y2="188" stroke="#1a1a1a" stroke-width="1.3" stroke-linecap="round"/>
<rect x="689.18" y="128.5" width="23.33" height="29.5" fill="#868686" stroke="#1a1a1a" stroke-width="1.35"/>
<line x1="689.18" y1="144" x2="712.52" y2="144" stroke="#161616" stroke-width="3.8"/>
<circle cx="700.85" cy="72.25" r="1.65" fill="none" stroke="#231f20" stroke-width="1.2"/>
<circle cx="700.85" cy="82.25" r="1.65" fill="none" stroke="#231f20" stroke-width="1.2"/>
<line x1="700.85" y1="227.2" x2="700.85" y2="235.1" stroke="#231f20" stroke-width="1.15"/>
<text x="692.15" y="253.4" font-size="16.7" text-anchor="start" font-style="italic">s<tspan font-size="9.4" font-style="normal" dy="5.6">1</tspan></text>
<path d="M730.02 118.5V137 M730.02 179.5V159.25" fill="none" stroke="#1a1a1a" stroke-width="1.25" stroke-dasharray="4.6 4.55" stroke-dashoffset="0.5"/>
<line x1="724.18" y1="118.5" x2="735.85" y2="118.5" stroke="#1a1a1a" stroke-width="1.3" stroke-linecap="round"/>
<line x1="724.18" y1="179.5" x2="735.85" y2="179.5" stroke="#1a1a1a" stroke-width="1.3" stroke-linecap="round"/>
<rect x="718.35" y="137" width="23.33" height="22.25" fill="#868686" stroke="#1a1a1a" stroke-width="1.35"/>
<line x1="718.35" y1="149" x2="741.68" y2="149" stroke="#161616" stroke-width="3.8"/>
<circle cx="730.02" cy="98" r="1.65" fill="none" stroke="#231f20" stroke-width="1.2"/>
<line x1="730.02" y1="227.2" x2="730.02" y2="235.1" stroke="#231f20" stroke-width="1.15"/>
<text x="721.32" y="253.4" font-size="16.7" text-anchor="start" font-style="italic">s<tspan font-size="9.4" font-style="normal" dy="5.6">2</tspan></text>
<line x1="561.55" y1="207.5" x2="752" y2="207.5" stroke="#5c5c5c" stroke-width="1.3" stroke-dasharray="4.0 2.155"/>
<line x1="561.55" y1="153.5" x2="752" y2="153.5" stroke="#5c5c5c" stroke-width="1.3" stroke-dasharray="4.0 2.155"/>
<line x1="561.55" y1="75.5" x2="752" y2="75.5" stroke="#5c5c5c" stroke-width="1.3" stroke-dasharray="4.0 2.155"/>
<rect x="562.6" y="30.75" width="189" height="196.45" fill="none" stroke="#231f20" stroke-width="1.15"/>
<line x1="554.7" y1="44.6" x2="562.6" y2="44.6" stroke="#231f20" stroke-width="1.15"/>
<line x1="554.7" y1="75.5" x2="562.6" y2="75.5" stroke="#231f20" stroke-width="1.15"/>
<line x1="554.7" y1="114.4" x2="562.6" y2="114.4" stroke="#231f20" stroke-width="1.15"/>
<line x1="554.7" y1="153.5" x2="562.6" y2="153.5" stroke="#231f20" stroke-width="1.15"/>
<line x1="554.7" y1="184.2" x2="562.6" y2="184.2" stroke="#231f20" stroke-width="1.15"/>
<line x1="554.7" y1="207.5" x2="562.6" y2="207.5" stroke="#231f20" stroke-width="1.15"/>
<text x="545.7" y="207.5" font-size="16.7" text-anchor="middle" transform="rotate(-90 545.7 207.5)">0.1</text>
<text x="545.7" y="153.5" font-size="16.7" text-anchor="middle" transform="rotate(-90 545.7 153.5)">0.33</text>
<text x="545.7" y="75.5" font-size="16.7" text-anchor="middle" transform="rotate(-90 545.7 75.5)">0.67</text>
<text x="37.2" y="292.1" font-size="20.0" text-anchor="start">b) Constant Rate (C)</text>
<line x1="61.1" y1="496.42" x2="235.89" y2="314.53" stroke="#231f20" stroke-width="1.15" stroke-linecap="round"/>
<circle cx="220.86" cy="326.82" r="2.6" fill="none" stroke="#231f20" stroke-width="1.05"/>
<circle cx="224.45" cy="324.29" r="2.6" fill="none" stroke="#231f20" stroke-width="1.05"/>
<circle cx="211.82" cy="337.53" r="2.6" fill="none" stroke="#231f20" stroke-width="1.05"/>
<circle cx="212.48" cy="337.5" r="2.6" fill="none" stroke="#231f20" stroke-width="1.05"/>
<circle cx="203.84" cy="347.4" r="2.6" fill="none" stroke="#231f20" stroke-width="1.05"/>
<circle cx="189.21" cy="361.17" r="2.6" fill="none" stroke="#231f20" stroke-width="1.05"/>
<circle cx="187.22" cy="364.03" r="2.6" fill="none" stroke="#231f20" stroke-width="1.05"/>
<circle cx="185.22" cy="369.35" r="2.6" fill="none" stroke="#231f20" stroke-width="1.05"/>
<circle cx="182.56" cy="366.82" r="2.6" fill="none" stroke="#231f20" stroke-width="1.05"/>
<circle cx="179.9" cy="371.08" r="2.6" fill="none" stroke="#231f20" stroke-width="1.05"/>
<circle cx="181.9" cy="371.97" r="2.6" fill="none" stroke="#231f20" stroke-width="1.05"/>
<circle cx="183.23" cy="371.62" r="2.6" fill="none" stroke="#231f20" stroke-width="1.05"/>
<circle cx="177.91" cy="377.94" r="2.6" fill="none" stroke="#231f20" stroke-width="1.05"/>
<circle cx="172.59" cy="380.44" r="2.6" fill="none" stroke="#231f20" stroke-width="1.05"/>
<circle cx="171.26" cy="383.02" r="2.6" fill="none" stroke="#231f20" stroke-width="1.05"/>
<circle cx="168.6" cy="383.42" r="2.6" fill="none" stroke="#231f20" stroke-width="1.05"/>
<circle cx="167.27" cy="383.92" r="2.6" fill="none" stroke="#231f20" stroke-width="1.05"/>
<circle cx="165.28" cy="386.44" r="2.6" fill="none" stroke="#231f20" stroke-width="1.05"/>
<circle cx="157.96" cy="390.61" r="2.6" fill="none" stroke="#231f20" stroke-width="1.05"/>
<circle cx="157.3" cy="400.22" r="2.6" fill="none" stroke="#231f20" stroke-width="1.05"/>
<circle cx="155.97" cy="397.97" r="2.6" fill="none" stroke="#231f20" stroke-width="1.05"/>
<circle cx="153.31" cy="398.45" r="2.6" fill="none" stroke="#231f20" stroke-width="1.05"/>
<circle cx="150.65" cy="399.86" r="2.6" fill="none" stroke="#231f20" stroke-width="1.05"/>
<circle cx="147.32" cy="401.1" r="2.6" fill="none" stroke="#231f20" stroke-width="1.05"/>
<circle cx="151.98" cy="402.29" r="2.6" fill="none" stroke="#231f20" stroke-width="1.05"/>
<circle cx="148.65" cy="404.17" r="2.6" fill="none" stroke="#231f20" stroke-width="1.05"/>
<circle cx="145.99" cy="404.59" r="2.6" fill="none" stroke="#231f20" stroke-width="1.05"/>
<circle cx="71.02" cy="484.55" r="2.6" fill="none" stroke="#231f20" stroke-width="1.05"/>
<circle cx="79.27" cy="477.08" r="2.6" fill="none" stroke="#231f20" stroke-width="1.05"/>
<circle cx="80.6" cy="478.64" r="2.6" fill="none" stroke="#231f20" stroke-width="1.05"/>
<circle cx="82.59" cy="472.21" r="2.6" fill="none" stroke="#231f20" stroke-width="1.05"/>
<circle cx="85.65" cy="472.69" r="2.6" fill="none" stroke="#231f20" stroke-width="1.05"/>
<circle cx="85.25" cy="466.66" r="2.6" fill="none" stroke="#231f20" stroke-width="1.05"/>
<circle cx="89.9" cy="468.75" r="2.6" fill="none" stroke="#231f20" stroke-width="1.05"/>
<circle cx="91.23" cy="464.24" r="2.6" fill="none" stroke="#231f20" stroke-width="1.05"/>
<circle cx="93.63" cy="463.97" r="2.6" fill="none" stroke="#231f20" stroke-width="1.05"/>
<circle cx="101.87" cy="445.94" r="2.6" fill="none" stroke="#231f20" stroke-width="1.05"/>
<circle cx="107.19" cy="454.94" r="2.6" fill="none" stroke="#231f20" stroke-width="1.05"/>
<circle cx="107.86" cy="453.82" r="2.6" fill="none" stroke="#231f20" stroke-width="1.05"/>
<circle cx="111.85" cy="447.83" r="2.6" fill="none" stroke="#231f20" stroke-width="1.05"/>
<circle cx="126.47" cy="426.82" r="2.6" fill="none" stroke="#231f20" stroke-width="1.05"/>
<circle cx="126.47" cy="434.46" r="2.6" fill="none" stroke="#231f20" stroke-width="1.05"/>
<circle cx="137.11" cy="412.56" r="2.6" fill="none" stroke="#231f20" stroke-width="1.05"/>
<circle cx="139.11" cy="419.91" r="2.6" fill="none" stroke="#231f20" stroke-width="1.05"/>
<circle cx="144.43" cy="409.24" r="2.6" fill="none" stroke="#231f20" stroke-width="1.05"/>
<circle cx="144.62" cy="408.62" r="2.6" fill="none" stroke="#231f20" stroke-width="1.05"/>
<circle cx="145.78" cy="408.54" r="2.6" fill="none" stroke="#231f20" stroke-width="1.05"/>
<circle cx="146.26" cy="406.2" r="2.6" fill="none" stroke="#231f20" stroke-width="1.05"/>
<circle cx="147.82" cy="405.09" r="2.6" fill="none" stroke="#231f20" stroke-width="1.05"/>
<circle cx="147.91" cy="403.69" r="2.6" fill="none" stroke="#231f20" stroke-width="1.05"/>
<circle cx="149.57" cy="403.35" r="2.6" fill="none" stroke="#231f20" stroke-width="1.05"/>
<circle cx="151.2" cy="402.12" r="2.6" fill="none" stroke="#231f20" stroke-width="1.05"/>
<circle cx="151.53" cy="400.26" r="2.6" fill="none" stroke="#231f20" stroke-width="1.05"/>
<circle cx="154.65" cy="401.55" r="2.6" fill="none" stroke="#231f20" stroke-width="1.05"/>
<circle cx="154.09" cy="399.03" r="2.6" fill="none" stroke="#231f20" stroke-width="1.05"/>
<circle cx="157.96" cy="400.99" r="2.6" fill="none" stroke="#231f20" stroke-width="1.05"/>
<circle cx="157.17" cy="398.35" r="2.6" fill="none" stroke="#231f20" stroke-width="1.05"/>
<circle cx="133.15" cy="422.86" r="2.6" fill="none" stroke="#231f20" stroke-width="1.05"/>
<circle cx="134.2" cy="422.71" r="2.6" fill="none" stroke="#231f20" stroke-width="1.05"/>
<circle cx="132.85" cy="420.69" r="2.6" fill="none" stroke="#231f20" stroke-width="1.05"/>
<circle cx="134.11" cy="420.89" r="2.6" fill="none" stroke="#231f20" stroke-width="1.05"/>
<circle cx="135.78" cy="420.71" r="2.6" fill="none" stroke="#231f20" stroke-width="1.05"/>
<circle cx="136.05" cy="421.01" r="2.6" fill="none" stroke="#231f20" stroke-width="1.05"/>
<circle cx="136.22" cy="418.01" r="2.6" fill="none" stroke="#231f20" stroke-width="1.05"/>
<circle cx="137.83" cy="418.95" r="2.6" fill="none" stroke="#231f20" stroke-width="1.05"/>
<circle cx="137.59" cy="417.27" r="2.6" fill="none" stroke="#231f20" stroke-width="1.05"/>
<circle cx="140.37" cy="418.44" r="2.6" fill="none" stroke="#231f20" stroke-width="1.05"/>
<circle cx="138.29" cy="415.09" r="2.6" fill="none" stroke="#231f20" stroke-width="1.05"/>
<circle cx="139.84" cy="415.72" r="2.6" fill="none" stroke="#231f20" stroke-width="1.05"/>
<circle cx="118.04" cy="434.95" r="2.6" fill="none" stroke="#231f20" stroke-width="1.05"/>
<circle cx="121.23" cy="438.75" r="2.6" fill="none" stroke="#231f20" stroke-width="1.05"/>
<circle cx="119.62" cy="435.81" r="2.6" fill="none" stroke="#231f20" stroke-width="1.05"/>
<circle cx="119.72" cy="434.74" r="2.6" fill="none" stroke="#231f20" stroke-width="1.05"/>
<circle cx="119.81" cy="433.25" r="2.6" fill="none" stroke="#231f20" stroke-width="1.05"/>
<circle cx="120.13" cy="433.16" r="2.6" fill="none" stroke="#231f20" stroke-width="1.05"/>
<circle cx="121.65" cy="432.54" r="2.6" fill="none" stroke="#231f20" stroke-width="1.05"/>
<circle cx="123.84" cy="434.52" r="2.6" fill="none" stroke="#231f20" stroke-width="1.05"/>
<circle cx="121.55" cy="430.81" r="2.6" fill="none" stroke="#231f20" stroke-width="1.05"/>
<circle cx="124.41" cy="433.4" r="2.6" fill="none" stroke="#231f20" stroke-width="1.05"/>
<circle cx="124.1" cy="431.25" r="2.6" fill="none" stroke="#231f20" stroke-width="1.05"/>
<circle cx="124.7" cy="430.74" r="2.6" fill="none" stroke="#231f20" stroke-width="1.05"/>
<circle cx="127.14" cy="432.43" r="2.6" fill="none" stroke="#231f20" stroke-width="1.05"/>
<circle cx="125.82" cy="429.54" r="2.6" fill="none" stroke="#231f20" stroke-width="1.05"/>
<circle cx="109.99" cy="444.23" r="2.6" fill="none" stroke="#231f20" stroke-width="1.05"/>
<circle cx="110.69" cy="443.61" r="2.6" fill="none" stroke="#231f20" stroke-width="1.05"/>
<circle cx="111.59" cy="443.79" r="2.6" fill="none" stroke="#231f20" stroke-width="1.05"/>
<circle cx="112.73" cy="442.45" r="2.6" fill="none" stroke="#231f20" stroke-width="1.05"/>
<circle cx="112.8" cy="443.12" r="2.6" fill="none" stroke="#231f20" stroke-width="1.05"/>
<circle cx="114.91" cy="442.94" r="2.6" fill="none" stroke="#231f20" stroke-width="1.05"/>
<circle cx="113.14" cy="440.53" r="2.6" fill="none" stroke="#231f20" stroke-width="1.05"/>
<circle cx="115.84" cy="440.15" r="2.6" fill="none" stroke="#231f20" stroke-width="1.05"/>
<circle cx="116.63" cy="440.02" r="2.6" fill="none" stroke="#231f20" stroke-width="1.05"/>
<circle cx="96.14" cy="458.84" r="2.6" fill="none" stroke="#231f20" stroke-width="1.05"/>
<circle cx="98.72" cy="460.41" r="2.6" fill="none" stroke="#231f20" stroke-width="1.05"/>
<circle cx="95.95" cy="456.37" r="2.6" fill="none" stroke="#231f20" stroke-width="1.05"/>
<circle cx="97.92" cy="456.81" r="2.6" fill="none" stroke="#231f20" stroke-width="1.05"/>
<circle cx="99.04" cy="457.6" r="2.6" fill="none" stroke="#231f20" stroke-width="1.05"/>
<circle cx="98.87" cy="456.25" r="2.6" fill="none" stroke="#231f20" stroke-width="1.05"/>
<circle cx="99.31" cy="455.59" r="2.6" fill="none" stroke="#231f20" stroke-width="1.05"/>
<circle cx="97.65" cy="452.97" r="2.6" fill="none" stroke="#231f20" stroke-width="1.05"/>
<circle cx="99.32" cy="452.83" r="2.6" fill="none" stroke="#231f20" stroke-width="1.05"/>
<circle cx="99.57" cy="452.28" r="2.6" fill="none" stroke="#231f20" stroke-width="1.05"/>
<circle cx="99.89" cy="452.21" r="2.6" fill="none" stroke="#231f20" stroke-width="1.05"/>
<circle cx="101.89" cy="453.35" r="2.6" fill="none" stroke="#231f20" stroke-width="1.05"/>
<circle cx="100.19" cy="450.79" r="2.6" fill="none" stroke="#231f20" stroke-width="1.05"/>
<circle cx="101.86" cy="451.46" r="2.6" fill="none" stroke="#231f20" stroke-width="1.05"/>
<circle cx="102.96" cy="451.68" r="2.6" fill="none" stroke="#231f20" stroke-width="1.05"/>
<circle cx="103.45" cy="452.62" r="2.6" fill="none" stroke="#231f20" stroke-width="1.05"/>
<circle cx="103.61" cy="450.48" r="2.6" fill="none" stroke="#231f20" stroke-width="1.05"/>
<circle cx="103.89" cy="450.08" r="2.6" fill="none" stroke="#231f20" stroke-width="1.05"/>
<circle cx="104.22" cy="449.29" r="2.6" fill="none" stroke="#231f20" stroke-width="1.05"/>
<circle cx="104.49" cy="450.31" r="2.6" fill="none" stroke="#231f20" stroke-width="1.05"/>
<rect x="54.3" y="307.25" width="188.9" height="196.45" fill="none" stroke="#231f20" stroke-width="1.15"/>
<line x1="61.1" y1="503.7" x2="61.1" y2="511.6" stroke="#231f20" stroke-width="1.15"/>
<line x1="46.4" y1="496.42" x2="54.3" y2="496.42" stroke="#231f20" stroke-width="1.15"/>
<text x="61.1" y="529.9" font-size="16.7" text-anchor="middle">10</text>
<text x="37.4" y="496.42" font-size="16.7" text-anchor="middle" transform="rotate(-90 37.4 496.42)">10</text>
<line x1="86.07" y1="503.7" x2="86.07" y2="511.6" stroke="#231f20" stroke-width="1.15"/>
<line x1="46.4" y1="470.44" x2="54.3" y2="470.44" stroke="#231f20" stroke-width="1.15"/>
<line x1="111.04" y1="503.7" x2="111.04" y2="511.6" stroke="#231f20" stroke-width="1.15"/>
<line x1="46.4" y1="444.45" x2="54.3" y2="444.45" stroke="#231f20" stroke-width="1.15"/>
<text x="111.04" y="529.9" font-size="16.7" text-anchor="middle">30</text>
<text x="37.4" y="444.45" font-size="16.7" text-anchor="middle" transform="rotate(-90 37.4 444.45)">30</text>
<line x1="136.01" y1="503.7" x2="136.01" y2="511.6" stroke="#231f20" stroke-width="1.15"/>
<line x1="46.4" y1="418.47" x2="54.3" y2="418.47" stroke="#231f20" stroke-width="1.15"/>
<line x1="160.98" y1="503.7" x2="160.98" y2="511.6" stroke="#231f20" stroke-width="1.15"/>
<line x1="46.4" y1="392.48" x2="54.3" y2="392.48" stroke="#231f20" stroke-width="1.15"/>
<text x="160.98" y="529.9" font-size="16.7" text-anchor="middle">50</text>
<text x="37.4" y="392.48" font-size="16.7" text-anchor="middle" transform="rotate(-90 37.4 392.48)">50</text>
<line x1="185.95" y1="503.7" x2="185.95" y2="511.6" stroke="#231f20" stroke-width="1.15"/>
<line x1="46.4" y1="366.5" x2="54.3" y2="366.5" stroke="#231f20" stroke-width="1.15"/>
<line x1="210.92" y1="503.7" x2="210.92" y2="511.6" stroke="#231f20" stroke-width="1.15"/>
<line x1="46.4" y1="340.51" x2="54.3" y2="340.51" stroke="#231f20" stroke-width="1.15"/>
<text x="210.92" y="529.9" font-size="16.7" text-anchor="middle">70</text>
<text x="37.4" y="340.51" font-size="16.7" text-anchor="middle" transform="rotate(-90 37.4 340.51)">70</text>
<line x1="235.89" y1="503.7" x2="235.89" y2="511.6" stroke="#231f20" stroke-width="1.15"/>
<line x1="46.4" y1="314.53" x2="54.3" y2="314.53" stroke="#231f20" stroke-width="1.15"/>
<text x="12.2" y="405.48" font-size="16.7" text-anchor="middle" transform="rotate(-90 12.2 405.48)">Estimated</text>
<text x="83.5" y="335.15" font-size="16.7" text-anchor="start">root age</text>
<text x="149.9" y="493.8" font-size="16.7" text-anchor="middle">True</text>
<line x1="315.02" y1="496.42" x2="490.3" y2="314.53" stroke="#231f20" stroke-width="1.15" stroke-linecap="round"/>
<circle cx="337.95" cy="462.19" r="2.6" fill="none" stroke="#231f20" stroke-width="1.05"/>
<circle cx="339.95" cy="476.81" r="2.6" fill="none" stroke="#231f20" stroke-width="1.05"/>
<circle cx="350.85" cy="474.82" r="2.6" fill="none" stroke="#231f20" stroke-width="1.05"/>
<circle cx="348.99" cy="469.23" r="2.6" fill="none" stroke="#231f20" stroke-width="1.05"/>
<circle cx="351.65" cy="468.17" r="2.6" fill="none" stroke="#231f20" stroke-width="1.05"/>
<circle cx="350.59" cy="466.18" r="2.6" fill="none" stroke="#231f20" stroke-width="1.05"/>
<circle cx="350.85" cy="458.2" r="2.6" fill="none" stroke="#231f20" stroke-width="1.05"/>
<circle cx="353.91" cy="456.87" r="2.6" fill="none" stroke="#231f20" stroke-width="1.05"/>
<circle cx="360.56" cy="468.84" r="2.6" fill="none" stroke="#231f20" stroke-width="1.05"/>
<circle cx="373.86" cy="466.18" r="2.6" fill="none" stroke="#231f20" stroke-width="1.05"/>
<circle cx="367.21" cy="462.85" r="2.6" fill="none" stroke="#231f20" stroke-width="1.05"/>
<circle cx="362.29" cy="461.52" r="2.6" fill="none" stroke="#231f20" stroke-width="1.05"/>
<circle cx="357.9" cy="419.23" r="2.6" fill="none" stroke="#231f20" stroke-width="1.05"/>
<circle cx="356.17" cy="431.2" r="2.6" fill="none" stroke="#231f20" stroke-width="1.05"/>
<circle cx="361.22" cy="430.67" r="2.6" fill="none" stroke="#231f20" stroke-width="1.05"/>
<circle cx="380.9" cy="440.24" r="2.6" fill="none" stroke="#231f20" stroke-width="1.05"/>
<circle cx="387.15" cy="438.91" r="2.6" fill="none" stroke="#231f20" stroke-width="1.05"/>
<circle cx="356.17" cy="452.21" r="2.6" fill="none" stroke="#231f20" stroke-width="1.05"/>
<circle cx="358.56" cy="451.55" r="2.6" fill="none" stroke="#231f20" stroke-width="1.05"/>
<circle cx="371.2" cy="455.54" r="2.6" fill="none" stroke="#231f20" stroke-width="1.05"/>
<circle cx="376.52" cy="452.88" r="2.6" fill="none" stroke="#231f20" stroke-width="1.05"/>
<circle cx="377.85" cy="448.89" r="2.6" fill="none" stroke="#231f20" stroke-width="1.05"/>
<circle cx="359.89" cy="442.9" r="2.6" fill="none" stroke="#231f20" stroke-width="1.05"/>
<circle cx="359.89" cy="435.59" r="2.6" fill="none" stroke="#231f20" stroke-width="1.05"/>
<circle cx="362.55" cy="433.6" r="2.6" fill="none" stroke="#231f20" stroke-width="1.05"/>
<circle cx="363.19" cy="437.08" r="2.6" fill="none" stroke="#231f20" stroke-width="1.05"/>
<circle cx="367.87" cy="432.93" r="2.6" fill="none" stroke="#231f20" stroke-width="1.05"/>
<circle cx="373.19" cy="438.25" r="2.6" fill="none" stroke="#231f20" stroke-width="1.05"/>
<circle cx="361.22" cy="438.91" r="2.6" fill="none" stroke="#231f20" stroke-width="1.05"/>
<circle cx="362.33" cy="438.31" r="2.6" fill="none" stroke="#231f20" stroke-width="1.05"/>
<circle cx="366.72" cy="442.32" r="2.6" fill="none" stroke="#231f20" stroke-width="1.05"/>
<circle cx="369.09" cy="442.64" r="2.6" fill="none" stroke="#231f20" stroke-width="1.05"/>
<circle cx="371.86" cy="440.91" r="2.6" fill="none" stroke="#231f20" stroke-width="1.05"/>
<circle cx="362.55" cy="442.24" r="2.6" fill="none" stroke="#231f20" stroke-width="1.05"/>
<circle cx="365.36" cy="447.14" r="2.6" fill="none" stroke="#231f20" stroke-width="1.05"/>
<circle cx="367.87" cy="442.9" r="2.6" fill="none" stroke="#231f20" stroke-width="1.05"/>
<circle cx="370.53" cy="444.9" r="2.6" fill="none" stroke="#231f20" stroke-width="1.05"/>
<circle cx="373.19" cy="445.56" r="2.6" fill="none" stroke="#231f20" stroke-width="1.05"/>
<circle cx="363.88" cy="446.23" r="2.6" fill="none" stroke="#231f20" stroke-width="1.05"/>
<circle cx="367.8" cy="448.42" r="2.6" fill="none" stroke="#231f20" stroke-width="1.05"/>
<circle cx="365.95" cy="447.1" r="2.6" fill="none" stroke="#231f20" stroke-width="1.05"/>
<circle cx="373.2" cy="447.89" r="2.6" fill="none" stroke="#231f20" stroke-width="1.05"/>
<circle cx="362.7" cy="448.16" r="2.6" fill="none" stroke="#231f20" stroke-width="1.05"/>
<circle cx="368.38" cy="453.85" r="2.6" fill="none" stroke="#231f20" stroke-width="1.05"/>
<circle cx="362.55" cy="452.88" r="2.6" fill="none" stroke="#231f20" stroke-width="1.05"/>
<circle cx="366.59" cy="450.87" r="2.6" fill="none" stroke="#231f20" stroke-width="1.05"/>
<circle cx="364.55" cy="456.87" r="2.6" fill="none" stroke="#231f20" stroke-width="1.05"/>
<circle cx="363.88" cy="458.86" r="2.6" fill="none" stroke="#231f20" stroke-width="1.05"/>
<circle cx="362.55" cy="460.86" r="2.6" fill="none" stroke="#231f20" stroke-width="1.05"/>
<circle cx="374.96" cy="449.14" r="2.6" fill="none" stroke="#231f20" stroke-width="1.05"/>
<circle cx="371.82" cy="450.47" r="2.6" fill="none" stroke="#231f20" stroke-width="1.05"/>
<circle cx="365.91" cy="436.66" r="2.6" fill="none" stroke="#231f20" stroke-width="1.05"/>
<circle cx="433.83" cy="368.91" r="2.6" fill="none" stroke="#231f20" stroke-width="1.05"/>
<circle cx="423.86" cy="373.17" r="2.6" fill="none" stroke="#231f20" stroke-width="1.05"/>
<circle cx="421.2" cy="378.89" r="2.6" fill="none" stroke="#231f20" stroke-width="1.05"/>
<circle cx="426.91" cy="394.45" r="2.6" fill="none" stroke="#231f20" stroke-width="1.05"/>
<circle cx="393.27" cy="385.54" r="2.6" fill="none" stroke="#231f20" stroke-width="1.05"/>
<circle cx="406.17" cy="382.88" r="2.6" fill="none" stroke="#231f20" stroke-width="1.05"/>
<circle cx="407.63" cy="387.93" r="2.6" fill="none" stroke="#231f20" stroke-width="1.05"/>
<circle cx="405.64" cy="393.52" r="2.6" fill="none" stroke="#231f20" stroke-width="1.05"/>
<circle cx="410.29" cy="399.1" r="2.6" fill="none" stroke="#231f20" stroke-width="1.05"/>
<circle cx="412.55" cy="403.09" r="2.6" fill="none" stroke="#231f20" stroke-width="1.05"/>
<circle cx="411.22" cy="417.72" r="2.6" fill="none" stroke="#231f20" stroke-width="1.05"/>
<circle cx="389.28" cy="405.88" r="2.6" fill="none" stroke="#231f20" stroke-width="1.05"/>
<circle cx="394.6" cy="404.82" r="2.6" fill="none" stroke="#231f20" stroke-width="1.05"/>
<circle cx="398.19" cy="405.48" r="2.6" fill="none" stroke="#231f20" stroke-width="1.05"/>
<circle cx="381.97" cy="412.13" r="2.6" fill="none" stroke="#231f20" stroke-width="1.05"/>
<circle cx="387.29" cy="410.8" r="2.6" fill="none" stroke="#231f20" stroke-width="1.05"/>
<circle cx="393.27" cy="410.14" r="2.6" fill="none" stroke="#231f20" stroke-width="1.05"/>
<circle cx="398.59" cy="412.8" r="2.6" fill="none" stroke="#231f20" stroke-width="1.05"/>
<circle cx="396.6" cy="414.13" r="2.6" fill="none" stroke="#231f20" stroke-width="1.05"/>
<circle cx="402.36" cy="412.54" r="2.6" fill="none" stroke="#231f20" stroke-width="1.05"/>
<circle cx="405.9" cy="412.8" r="2.6" fill="none" stroke="#231f20" stroke-width="1.05"/>
<circle cx="407.9" cy="411.47" r="2.6" fill="none" stroke="#231f20" stroke-width="1.05"/>
<circle cx="406.57" cy="415.46" r="2.6" fill="none" stroke="#231f20" stroke-width="1.05"/>
<circle cx="404.57" cy="416.79" r="2.6" fill="none" stroke="#231f20" stroke-width="1.05"/>
<circle cx="400.59" cy="416.79" r="2.6" fill="none" stroke="#231f20" stroke-width="1.05"/>
<circle cx="396.5" cy="419.66" r="2.6" fill="none" stroke="#231f20" stroke-width="1.05"/>
<circle cx="391.28" cy="416.79" r="2.6" fill="none" stroke="#231f20" stroke-width="1.05"/>
<circle cx="387.95" cy="414.79" r="2.6" fill="none" stroke="#231f20" stroke-width="1.05"/>
<circle cx="378.64" cy="421.04" r="2.6" fill="none" stroke="#231f20" stroke-width="1.05"/>
<circle cx="380.37" cy="424.77" r="2.6" fill="none" stroke="#231f20" stroke-width="1.05"/>
<circle cx="387.29" cy="422.11" r="2.6" fill="none" stroke="#231f20" stroke-width="1.05"/>
<circle cx="389.95" cy="423.44" r="2.6" fill="none" stroke="#231f20" stroke-width="1.05"/>
<circle cx="389.68" cy="428.94" r="2.6" fill="none" stroke="#231f20" stroke-width="1.05"/>
<circle cx="389.95" cy="428.76" r="2.6" fill="none" stroke="#231f20" stroke-width="1.05"/>
<circle cx="386.62" cy="425.43" r="2.6" fill="none" stroke="#231f20" stroke-width="1.05"/>
<circle cx="399.26" cy="424.77" r="2.6" fill="none" stroke="#231f20" stroke-width="1.05"/>
<circle cx="401.65" cy="424.1" r="2.6" fill="none" stroke="#231f20" stroke-width="1.05"/>
<circle cx="405.64" cy="432.08" r="2.6" fill="none" stroke="#231f20" stroke-width="1.05"/>
<circle cx="402.58" cy="435.4" r="2.6" fill="none" stroke="#231f20" stroke-width="1.05"/>
<circle cx="388.62" cy="433.41" r="2.6" fill="none" stroke="#231f20" stroke-width="1.05"/>
<circle cx="382.63" cy="432.74" r="2.6" fill="none" stroke="#231f20" stroke-width="1.05"/>
<circle cx="372.39" cy="428.76" r="2.6" fill="none" stroke="#231f20" stroke-width="1.05"/>
<circle cx="375.32" cy="434.74" r="2.6" fill="none" stroke="#231f20" stroke-width="1.05"/>
<circle cx="472.3" cy="358.5" r="2.6" fill="none" stroke="#231f20" stroke-width="1.05"/>
<rect x="308.5" y="307.25" width="188.8" height="196.45" fill="none" stroke="#231f20" stroke-width="1.15"/>
<line x1="334.5" y1="503.7" x2="334.5" y2="511.6" stroke="#231f20" stroke-width="1.15"/>
<line x1="300.6" y1="476.21" x2="308.5" y2="476.21" stroke="#231f20" stroke-width="1.15"/>
<text x="334.5" y="529.9" font-size="16.7" text-anchor="middle">0.5</text>
<text x="291.6" y="476.21" font-size="16.7" text-anchor="middle" transform="rotate(-90 291.6 476.21)">0.5</text>
<line x1="373.45" y1="503.7" x2="373.45" y2="511.6" stroke="#231f20" stroke-width="1.15"/>
<line x1="300.6" y1="435.79" x2="308.5" y2="435.79" stroke="#231f20" stroke-width="1.15"/>
<text x="373.45" y="529.9" font-size="16.7" text-anchor="middle">0.6</text>
<text x="291.6" y="435.79" font-size="16.7" text-anchor="middle" transform="rotate(-90 291.6 435.79)">0.6</text>
<line x1="412.4" y1="503.7" x2="412.4" y2="511.6" stroke="#231f20" stroke-width="1.15"/>
<line x1="300.6" y1="395.37" x2="308.5" y2="395.37" stroke="#231f20" stroke-width="1.15"/>
<text x="412.4" y="529.9" font-size="16.7" text-anchor="middle">0.7</text>
<text x="291.6" y="395.37" font-size="16.7" text-anchor="middle" transform="rotate(-90 291.6 395.37)">0.7</text>
<line x1="451.35" y1="503.7" x2="451.35" y2="511.6" stroke="#231f20" stroke-width="1.15"/>
<line x1="300.6" y1="354.95" x2="308.5" y2="354.95" stroke="#231f20" stroke-width="1.15"/>
<text x="451.35" y="529.9" font-size="16.7" text-anchor="middle">0.8</text>
<text x="291.6" y="354.95" font-size="16.7" text-anchor="middle" transform="rotate(-90 291.6 354.95)">0.8</text>
<line x1="490.3" y1="503.7" x2="490.3" y2="511.6" stroke="#231f20" stroke-width="1.15"/>
<line x1="300.6" y1="314.53" x2="308.5" y2="314.53" stroke="#231f20" stroke-width="1.15"/>
<text x="490.3" y="529.9" font-size="16.7" text-anchor="middle">0.9</text>
<text x="291.6" y="314.53" font-size="16.7" text-anchor="middle" transform="rotate(-90 291.6 314.53)">0.9</text>
<text x="322.5" y="335.35" font-size="16.7" text-anchor="start">% ancestral fossils</text>
<text x="410" y="492.4" font-size="16.7" text-anchor="middle">True</text>
<path d="M598.77 472.75V482 M598.77 496.25V489.5" fill="none" stroke="#1a1a1a" stroke-width="1.25" stroke-dasharray="4.6 4.55" stroke-dashoffset="0.5"/>
<line x1="587.1" y1="472.75" x2="610.43" y2="472.75" stroke="#1a1a1a" stroke-width="1.3" stroke-linecap="round"/>
<line x1="587.1" y1="496.25" x2="610.43" y2="496.25" stroke="#1a1a1a" stroke-width="1.3" stroke-linecap="round"/>
<rect x="575.43" y="482" width="46.67" height="7.5" fill="#646464" stroke="#1a1a1a" stroke-width="1.35"/>
<line x1="575.43" y1="485.75" x2="622.1" y2="485.75" stroke="#161616" stroke-width="3.8"/>
<circle cx="598.77" cy="466" r="1.65" fill="none" stroke="#231f20" stroke-width="1.2"/>
<circle cx="598.77" cy="470.5" r="1.65" fill="none" stroke="#231f20" stroke-width="1.2"/>
<line x1="598.77" y1="503.7" x2="598.77" y2="511.6" stroke="#231f20" stroke-width="1.15"/>
<text x="599.27" y="529.9" font-size="16.7" text-anchor="middle" font-style="italic">d</text>
<path d="M657.1 314.25V330.5 M657.1 396V357.25" fill="none" stroke="#1a1a1a" stroke-width="1.25" stroke-dasharray="4.6 4.55" stroke-dashoffset="0.5"/>
<line x1="645.43" y1="314.25" x2="668.77" y2="314.25" stroke="#1a1a1a" stroke-width="1.3" stroke-linecap="round"/>
<line x1="645.43" y1="396" x2="668.77" y2="396" stroke="#1a1a1a" stroke-width="1.3" stroke-linecap="round"/>
<rect x="633.77" y="330.5" width="46.67" height="26.75" fill="#646464" stroke="#1a1a1a" stroke-width="1.35"/>
<line x1="633.77" y1="342.25" x2="680.43" y2="342.25" stroke="#161616" stroke-width="3.8"/>
<circle cx="657.1" cy="403" r="1.65" fill="none" stroke="#231f20" stroke-width="1.2"/>
<circle cx="657.1" cy="416.75" r="1.65" fill="none" stroke="#231f20" stroke-width="1.2"/>
<line x1="657.1" y1="503.7" x2="657.1" y2="511.6" stroke="#231f20" stroke-width="1.15"/>
<text x="657.6" y="529.9" font-size="16.7" text-anchor="middle" font-style="italic">r</text>
<path d="M715.43 373.75V405.5 M715.43 448V430.25" fill="none" stroke="#1a1a1a" stroke-width="1.25" stroke-dasharray="4.6 4.55" stroke-dashoffset="0.5"/>
<line x1="703.77" y1="373.75" x2="727.1" y2="373.75" stroke="#1a1a1a" stroke-width="1.3" stroke-linecap="round"/>
<line x1="703.77" y1="448" x2="727.1" y2="448" stroke="#1a1a1a" stroke-width="1.3" stroke-linecap="round"/>
<rect x="692.1" y="405.5" width="46.67" height="24.75" fill="#868686" stroke="#1a1a1a" stroke-width="1.35"/>
<line x1="692.1" y1="417.25" x2="738.77" y2="417.25" stroke="#161616" stroke-width="3.8"/>
<line x1="715.43" y1="503.7" x2="715.43" y2="511.6" stroke="#231f20" stroke-width="1.15"/>
<text x="715.93" y="529.9" font-size="16.7" text-anchor="middle" font-style="italic">s</text>
<line x1="561.55" y1="485.75" x2="752" y2="485.75" stroke="#5c5c5c" stroke-width="1.3" stroke-dasharray="4.0 2.155"/>
<line x1="561.55" y1="428.25" x2="752" y2="428.25" stroke="#5c5c5c" stroke-width="1.3" stroke-dasharray="4.0 2.155"/>
<line x1="561.55" y1="345.75" x2="752" y2="345.75" stroke="#5c5c5c" stroke-width="1.3" stroke-dasharray="4.0 2.155"/>
<rect x="562.6" y="307.25" width="189" height="196.45" fill="none" stroke="#231f20" stroke-width="1.15"/>
<line x1="554.7" y1="313.2" x2="562.6" y2="313.2" stroke="#231f20" stroke-width="1.15"/>
<line x1="554.7" y1="345.75" x2="562.6" y2="345.75" stroke="#231f20" stroke-width="1.15"/>
<line x1="554.7" y1="386.9" x2="562.6" y2="386.9" stroke="#231f20" stroke-width="1.15"/>
<line x1="554.7" y1="428.25" x2="562.6" y2="428.25" stroke="#231f20" stroke-width="1.15"/>
<line x1="554.7" y1="460.9" x2="562.6" y2="460.9" stroke="#231f20" stroke-width="1.15"/>
<line x1="554.7" y1="485.75" x2="562.6" y2="485.75" stroke="#231f20" stroke-width="1.15"/>
<text x="545.7" y="485.75" font-size="16.7" text-anchor="middle" transform="rotate(-90 545.7 485.75)">0.1</text>
<text x="545.7" y="428.25" font-size="16.7" text-anchor="middle" transform="rotate(-90 545.7 428.25)">0.33</text>
<text x="545.7" y="345.75" font-size="16.7" text-anchor="middle" transform="rotate(-90 545.7 345.75)">0.67</text>
<text x="37.2" y="567.1" font-size="20.0" text-anchor="start">c) Large Sampling Fraction (L)</text>
<line x1="61.1" y1="771.92" x2="235.89" y2="590.03" stroke="#231f20" stroke-width="1.15" stroke-linecap="round"/>
<circle cx="220.86" cy="603.02" r="2.6" fill="none" stroke="#231f20" stroke-width="1.05"/>
<circle cx="224.45" cy="600.51" r="2.6" fill="none" stroke="#231f20" stroke-width="1.05"/>
<circle cx="211.82" cy="612.3" r="2.6" fill="none" stroke="#231f20" stroke-width="1.05"/>
<circle cx="212.48" cy="613.94" r="2.6" fill="none" stroke="#231f20" stroke-width="1.05"/>
<circle cx="203.84" cy="623.24" r="2.6" fill="none" stroke="#231f20" stroke-width="1.05"/>
<circle cx="189.21" cy="636.21" r="2.6" fill="none" stroke="#231f20" stroke-width="1.05"/>
<circle cx="187.22" cy="638.97" r="2.6" fill="none" stroke="#231f20" stroke-width="1.05"/>
<circle cx="185.22" cy="644.07" r="2.6" fill="none" stroke="#231f20" stroke-width="1.05"/>
<circle cx="182.56" cy="643.1" r="2.6" fill="none" stroke="#231f20" stroke-width="1.05"/>
<circle cx="179.9" cy="645.99" r="2.6" fill="none" stroke="#231f20" stroke-width="1.05"/>
<circle cx="181.9" cy="646.72" r="2.6" fill="none" stroke="#231f20" stroke-width="1.05"/>
<circle cx="183.23" cy="645.42" r="2.6" fill="none" stroke="#231f20" stroke-width="1.05"/>
<circle cx="177.91" cy="653.74" r="2.6" fill="none" stroke="#231f20" stroke-width="1.05"/>
<circle cx="172.59" cy="655.24" r="2.6" fill="none" stroke="#231f20" stroke-width="1.05"/>
<circle cx="171.26" cy="657.54" r="2.6" fill="none" stroke="#231f20" stroke-width="1.05"/>
<circle cx="168.6" cy="658.71" r="2.6" fill="none" stroke="#231f20" stroke-width="1.05"/>
<circle cx="167.27" cy="660.42" r="2.6" fill="none" stroke="#231f20" stroke-width="1.05"/>
<circle cx="165.28" cy="662.18" r="2.6" fill="none" stroke="#231f20" stroke-width="1.05"/>
<circle cx="157.96" cy="666.19" r="2.6" fill="none" stroke="#231f20" stroke-width="1.05"/>
<circle cx="157.3" cy="674.45" r="2.6" fill="none" stroke="#231f20" stroke-width="1.05"/>
<circle cx="155.97" cy="673.2" r="2.6" fill="none" stroke="#231f20" stroke-width="1.05"/>
<circle cx="153.31" cy="673.97" r="2.6" fill="none" stroke="#231f20" stroke-width="1.05"/>
<circle cx="150.65" cy="675.86" r="2.6" fill="none" stroke="#231f20" stroke-width="1.05"/>
<circle cx="147.32" cy="677.02" r="2.6" fill="none" stroke="#231f20" stroke-width="1.05"/>
<circle cx="151.98" cy="677.51" r="2.6" fill="none" stroke="#231f20" stroke-width="1.05"/>
<circle cx="148.65" cy="679.63" r="2.6" fill="none" stroke="#231f20" stroke-width="1.05"/>
<circle cx="145.99" cy="679.89" r="2.6" fill="none" stroke="#231f20" stroke-width="1.05"/>
<circle cx="71.02" cy="760.18" r="2.6" fill="none" stroke="#231f20" stroke-width="1.05"/>
<circle cx="79.27" cy="752.22" r="2.6" fill="none" stroke="#231f20" stroke-width="1.05"/>
<circle cx="80.6" cy="754.69" r="2.6" fill="none" stroke="#231f20" stroke-width="1.05"/>
<circle cx="82.59" cy="747.71" r="2.6" fill="none" stroke="#231f20" stroke-width="1.05"/>
<circle cx="85.65" cy="748.49" r="2.6" fill="none" stroke="#231f20" stroke-width="1.05"/>
<circle cx="85.25" cy="741.94" r="2.6" fill="none" stroke="#231f20" stroke-width="1.05"/>
<circle cx="89.9" cy="743.78" r="2.6" fill="none" stroke="#231f20" stroke-width="1.05"/>
<circle cx="91.23" cy="738.72" r="2.6" fill="none" stroke="#231f20" stroke-width="1.05"/>
<circle cx="93.63" cy="739.66" r="2.6" fill="none" stroke="#231f20" stroke-width="1.05"/>
<circle cx="101.87" cy="722.15" r="2.6" fill="none" stroke="#231f20" stroke-width="1.05"/>
<circle cx="107.19" cy="730.37" r="2.6" fill="none" stroke="#231f20" stroke-width="1.05"/>
<circle cx="107.86" cy="728.72" r="2.6" fill="none" stroke="#231f20" stroke-width="1.05"/>
<circle cx="111.85" cy="723.87" r="2.6" fill="none" stroke="#231f20" stroke-width="1.05"/>
<circle cx="126.47" cy="701.32" r="2.6" fill="none" stroke="#231f20" stroke-width="1.05"/>
<circle cx="126.47" cy="709.53" r="2.6" fill="none" stroke="#231f20" stroke-width="1.05"/>
<circle cx="137.11" cy="687.48" r="2.6" fill="none" stroke="#231f20" stroke-width="1.05"/>
<circle cx="139.11" cy="695.11" r="2.6" fill="none" stroke="#231f20" stroke-width="1.05"/>
<circle cx="144.43" cy="684.15" r="2.6" fill="none" stroke="#231f20" stroke-width="1.05"/>
<circle cx="144.62" cy="683.04" r="2.6" fill="none" stroke="#231f20" stroke-width="1.05"/>
<circle cx="145.78" cy="683.92" r="2.6" fill="none" stroke="#231f20" stroke-width="1.05"/>
<circle cx="146.26" cy="680.44" r="2.6" fill="none" stroke="#231f20" stroke-width="1.05"/>
<circle cx="147.82" cy="679.46" r="2.6" fill="none" stroke="#231f20" stroke-width="1.05"/>
<circle cx="147.91" cy="679.89" r="2.6" fill="none" stroke="#231f20" stroke-width="1.05"/>
<circle cx="149.57" cy="678.52" r="2.6" fill="none" stroke="#231f20" stroke-width="1.05"/>
<circle cx="151.2" cy="678.32" r="2.6" fill="none" stroke="#231f20" stroke-width="1.05"/>
<circle cx="151.53" cy="677.3" r="2.6" fill="none" stroke="#231f20" stroke-width="1.05"/>
<circle cx="154.65" cy="676.48" r="2.6" fill="none" stroke="#231f20" stroke-width="1.05"/>
<circle cx="154.09" cy="674.27" r="2.6" fill="none" stroke="#231f20" stroke-width="1.05"/>
<circle cx="157.96" cy="676.07" r="2.6" fill="none" stroke="#231f20" stroke-width="1.05"/>
<circle cx="157.17" cy="673.22" r="2.6" fill="none" stroke="#231f20" stroke-width="1.05"/>
<circle cx="133.15" cy="698.41" r="2.6" fill="none" stroke="#231f20" stroke-width="1.05"/>
<circle cx="134.2" cy="697.56" r="2.6" fill="none" stroke="#231f20" stroke-width="1.05"/>
<circle cx="132.85" cy="695.75" r="2.6" fill="none" stroke="#231f20" stroke-width="1.05"/>
<circle cx="134.11" cy="696.54" r="2.6" fill="none" stroke="#231f20" stroke-width="1.05"/>
<circle cx="135.78" cy="696.02" r="2.6" fill="none" stroke="#231f20" stroke-width="1.05"/>
<circle cx="136.05" cy="694.6" r="2.6" fill="none" stroke="#231f20" stroke-width="1.05"/>
<circle cx="136.22" cy="694.56" r="2.6" fill="none" stroke="#231f20" stroke-width="1.05"/>
<circle cx="137.83" cy="694.61" r="2.6" fill="none" stroke="#231f20" stroke-width="1.05"/>
<circle cx="137.59" cy="692.87" r="2.6" fill="none" stroke="#231f20" stroke-width="1.05"/>
<circle cx="140.37" cy="695.07" r="2.6" fill="none" stroke="#231f20" stroke-width="1.05"/>
<circle cx="138.29" cy="691.85" r="2.6" fill="none" stroke="#231f20" stroke-width="1.05"/>
<circle cx="139.84" cy="691.26" r="2.6" fill="none" stroke="#231f20" stroke-width="1.05"/>
<circle cx="118.04" cy="710.94" r="2.6" fill="none" stroke="#231f20" stroke-width="1.05"/>
<circle cx="121.23" cy="714.02" r="2.6" fill="none" stroke="#231f20" stroke-width="1.05"/>
<circle cx="119.62" cy="711.82" r="2.6" fill="none" stroke="#231f20" stroke-width="1.05"/>
<circle cx="119.72" cy="710.35" r="2.6" fill="none" stroke="#231f20" stroke-width="1.05"/>
<circle cx="119.81" cy="709.41" r="2.6" fill="none" stroke="#231f20" stroke-width="1.05"/>
<circle cx="120.13" cy="707.54" r="2.6" fill="none" stroke="#231f20" stroke-width="1.05"/>
<circle cx="121.65" cy="708.62" r="2.6" fill="none" stroke="#231f20" stroke-width="1.05"/>
<circle cx="123.84" cy="709.9" r="2.6" fill="none" stroke="#231f20" stroke-width="1.05"/>
<circle cx="121.55" cy="706.99" r="2.6" fill="none" stroke="#231f20" stroke-width="1.05"/>
<circle cx="124.41" cy="708.25" r="2.6" fill="none" stroke="#231f20" stroke-width="1.05"/>
<circle cx="124.1" cy="707.48" r="2.6" fill="none" stroke="#231f20" stroke-width="1.05"/>
<circle cx="124.7" cy="706.36" r="2.6" fill="none" stroke="#231f20" stroke-width="1.05"/>
<circle cx="127.14" cy="707.97" r="2.6" fill="none" stroke="#231f20" stroke-width="1.05"/>
<circle cx="125.82" cy="705.55" r="2.6" fill="none" stroke="#231f20" stroke-width="1.05"/>
<circle cx="109.99" cy="720.15" r="2.6" fill="none" stroke="#231f20" stroke-width="1.05"/>
<circle cx="110.69" cy="719.42" r="2.6" fill="none" stroke="#231f20" stroke-width="1.05"/>
<circle cx="111.59" cy="719.35" r="2.6" fill="none" stroke="#231f20" stroke-width="1.05"/>
<circle cx="112.73" cy="717.74" r="2.6" fill="none" stroke="#231f20" stroke-width="1.05"/>
<circle cx="112.8" cy="717.91" r="2.6" fill="none" stroke="#231f20" stroke-width="1.05"/>
<circle cx="114.91" cy="717.38" r="2.6" fill="none" stroke="#231f20" stroke-width="1.05"/>
<circle cx="113.14" cy="714.89" r="2.6" fill="none" stroke="#231f20" stroke-width="1.05"/>
<circle cx="115.84" cy="715.67" r="2.6" fill="none" stroke="#231f20" stroke-width="1.05"/>
<circle cx="116.63" cy="715.5" r="2.6" fill="none" stroke="#231f20" stroke-width="1.05"/>
<circle cx="96.14" cy="733.03" r="2.6" fill="none" stroke="#231f20" stroke-width="1.05"/>
<circle cx="98.72" cy="735.79" r="2.6" fill="none" stroke="#231f20" stroke-width="1.05"/>
<circle cx="95.95" cy="731.68" r="2.6" fill="none" stroke="#231f20" stroke-width="1.05"/>
<circle cx="97.92" cy="733.1" r="2.6" fill="none" stroke="#231f20" stroke-width="1.05"/>
<circle cx="99.04" cy="732.83" r="2.6" fill="none" stroke="#231f20" stroke-width="1.05"/>
<circle cx="98.87" cy="730.46" r="2.6" fill="none" stroke="#231f20" stroke-width="1.05"/>
<circle cx="99.31" cy="730.1" r="2.6" fill="none" stroke="#231f20" stroke-width="1.05"/>
<circle cx="97.65" cy="728.75" r="2.6" fill="none" stroke="#231f20" stroke-width="1.05"/>
<circle cx="99.32" cy="728.77" r="2.6" fill="none" stroke="#231f20" stroke-width="1.05"/>
<circle cx="99.57" cy="728.23" r="2.6" fill="none" stroke="#231f20" stroke-width="1.05"/>
<circle cx="99.89" cy="728.59" r="2.6" fill="none" stroke="#231f20" stroke-width="1.05"/>
<circle cx="101.89" cy="728.85" r="2.6" fill="none" stroke="#231f20" stroke-width="1.05"/>
<circle cx="100.19" cy="726.29" r="2.6" fill="none" stroke="#231f20" stroke-width="1.05"/>
<circle cx="101.86" cy="726.83" r="2.6" fill="none" stroke="#231f20" stroke-width="1.05"/>
<circle cx="102.96" cy="727.98" r="2.6" fill="none" stroke="#231f20" stroke-width="1.05"/>
<circle cx="103.45" cy="726.28" r="2.6" fill="none" stroke="#231f20" stroke-width="1.05"/>
<circle cx="103.61" cy="727.06" r="2.6" fill="none" stroke="#231f20" stroke-width="1.05"/>
<circle cx="103.89" cy="725.51" r="2.6" fill="none" stroke="#231f20" stroke-width="1.05"/>
<circle cx="104.22" cy="725.79" r="2.6" fill="none" stroke="#231f20" stroke-width="1.05"/>
<circle cx="104.49" cy="724.82" r="2.6" fill="none" stroke="#231f20" stroke-width="1.05"/>
<rect x="54.3" y="582.75" width="188.9" height="196.45" fill="none" stroke="#231f20" stroke-width="1.15"/>
<line x1="61.1" y1="779.2" x2="61.1" y2="787.1" stroke="#231f20" stroke-width="1.15"/>
<line x1="46.4" y1="771.92" x2="54.3" y2="771.92" stroke="#231f20" stroke-width="1.15"/>
<text x="61.1" y="805.4" font-size="16.7" text-anchor="middle">10</text>
<text x="37.4" y="771.92" font-size="16.7" text-anchor="middle" transform="rotate(-90 37.4 771.92)">10</text>
<line x1="86.07" y1="779.2" x2="86.07" y2="787.1" stroke="#231f20" stroke-width="1.15"/>
<line x1="46.4" y1="745.94" x2="54.3" y2="745.94" stroke="#231f20" stroke-width="1.15"/>
<line x1="111.04" y1="779.2" x2="111.04" y2="787.1" stroke="#231f20" stroke-width="1.15"/>
<line x1="46.4" y1="719.95" x2="54.3" y2="719.95" stroke="#231f20" stroke-width="1.15"/>
<text x="111.04" y="805.4" font-size="16.7" text-anchor="middle">30</text>
<text x="37.4" y="719.95" font-size="16.7" text-anchor="middle" transform="rotate(-90 37.4 719.95)">30</text>
<line x1="136.01" y1="779.2" x2="136.01" y2="787.1" stroke="#231f20" stroke-width="1.15"/>
<line x1="46.4" y1="693.97" x2="54.3" y2="693.97" stroke="#231f20" stroke-width="1.15"/>
<line x1="160.98" y1="779.2" x2="160.98" y2="787.1" stroke="#231f20" stroke-width="1.15"/>
<line x1="46.4" y1="667.98" x2="54.3" y2="667.98" stroke="#231f20" stroke-width="1.15"/>
<text x="160.98" y="805.4" font-size="16.7" text-anchor="middle">50</text>
<text x="37.4" y="667.98" font-size="16.7" text-anchor="middle" transform="rotate(-90 37.4 667.98)">50</text>
<line x1="185.95" y1="779.2" x2="185.95" y2="787.1" stroke="#231f20" stroke-width="1.15"/>
<line x1="46.4" y1="642" x2="54.3" y2="642" stroke="#231f20" stroke-width="1.15"/>
<line x1="210.92" y1="779.2" x2="210.92" y2="787.1" stroke="#231f20" stroke-width="1.15"/>
<line x1="46.4" y1="616.01" x2="54.3" y2="616.01" stroke="#231f20" stroke-width="1.15"/>
<text x="210.92" y="805.4" font-size="16.7" text-anchor="middle">70</text>
<text x="37.4" y="616.01" font-size="16.7" text-anchor="middle" transform="rotate(-90 37.4 616.01)">70</text>
<line x1="235.89" y1="779.2" x2="235.89" y2="787.1" stroke="#231f20" stroke-width="1.15"/>
<line x1="46.4" y1="590.03" x2="54.3" y2="590.03" stroke="#231f20" stroke-width="1.15"/>
<text x="12.2" y="680.98" font-size="16.7" text-anchor="middle" transform="rotate(-90 12.2 680.98)">Estimated</text>
<text x="83.5" y="610.65" font-size="16.7" text-anchor="start">root age</text>
<text x="149.9" y="769.3" font-size="16.7" text-anchor="middle">True</text>
<line x1="315.02" y1="771.92" x2="490.3" y2="590.03" stroke="#231f20" stroke-width="1.15" stroke-linecap="round"/>
<circle cx="337.95" cy="725.62" r="2.6" fill="none" stroke="#231f20" stroke-width="1.05"/>
<circle cx="339.95" cy="740.11" r="2.6" fill="none" stroke="#231f20" stroke-width="1.05"/>
<circle cx="351.25" cy="735.46" r="2.6" fill="none" stroke="#231f20" stroke-width="1.05"/>
<circle cx="348.99" cy="727.88" r="2.6" fill="none" stroke="#231f20" stroke-width="1.05"/>
<circle cx="350.85" cy="727.88" r="2.6" fill="none" stroke="#231f20" stroke-width="1.05"/>
<circle cx="349.92" cy="729.21" r="2.6" fill="none" stroke="#231f20" stroke-width="1.05"/>
<circle cx="351.91" cy="731.47" r="2.6" fill="none" stroke="#231f20" stroke-width="1.05"/>
<circle cx="350.85" cy="719.9" r="2.6" fill="none" stroke="#231f20" stroke-width="1.05"/>
<circle cx="353.51" cy="716.84" r="2.6" fill="none" stroke="#231f20" stroke-width="1.05"/>
<circle cx="360.56" cy="730.94" r="2.6" fill="none" stroke="#231f20" stroke-width="1.05"/>
<circle cx="361.89" cy="723.89" r="2.6" fill="none" stroke="#231f20" stroke-width="1.05"/>
<circle cx="373.46" cy="722.16" r="2.6" fill="none" stroke="#231f20" stroke-width="1.05"/>
<circle cx="357.9" cy="683.99" r="2.6" fill="none" stroke="#231f20" stroke-width="1.05"/>
<circle cx="355.9" cy="694.9" r="2.6" fill="none" stroke="#231f20" stroke-width="1.05"/>
<circle cx="356.57" cy="706.2" r="2.6" fill="none" stroke="#231f20" stroke-width="1.05"/>
<circle cx="358.56" cy="710.59" r="2.6" fill="none" stroke="#231f20" stroke-width="1.05"/>
<circle cx="359.63" cy="715.91" r="2.6" fill="none" stroke="#231f20" stroke-width="1.05"/>
<circle cx="375.85" cy="713.91" r="2.6" fill="none" stroke="#231f20" stroke-width="1.05"/>
<circle cx="359.89" cy="694.63" r="2.6" fill="none" stroke="#231f20" stroke-width="1.05"/>
<circle cx="362.55" cy="693.97" r="2.6" fill="none" stroke="#231f20" stroke-width="1.05"/>
<circle cx="366.91" cy="694.92" r="2.6" fill="none" stroke="#231f20" stroke-width="1.05"/>
<circle cx="367.87" cy="693.97" r="2.6" fill="none" stroke="#231f20" stroke-width="1.05"/>
<circle cx="359.72" cy="696.77" r="2.6" fill="none" stroke="#231f20" stroke-width="1.05"/>
<circle cx="364.03" cy="698.32" r="2.6" fill="none" stroke="#231f20" stroke-width="1.05"/>
<circle cx="365.22" cy="698.29" r="2.6" fill="none" stroke="#231f20" stroke-width="1.05"/>
<circle cx="369.4" cy="697.36" r="2.6" fill="none" stroke="#231f20" stroke-width="1.05"/>
<circle cx="362.55" cy="700.62" r="2.6" fill="none" stroke="#231f20" stroke-width="1.05"/>
<circle cx="365.21" cy="701.28" r="2.6" fill="none" stroke="#231f20" stroke-width="1.05"/>
<circle cx="367.87" cy="701.95" r="2.6" fill="none" stroke="#231f20" stroke-width="1.05"/>
<circle cx="361.22" cy="705.27" r="2.6" fill="none" stroke="#231f20" stroke-width="1.05"/>
<circle cx="363.88" cy="705.94" r="2.6" fill="none" stroke="#231f20" stroke-width="1.05"/>
<circle cx="366.54" cy="706.6" r="2.6" fill="none" stroke="#231f20" stroke-width="1.05"/>
<circle cx="369.2" cy="705.94" r="2.6" fill="none" stroke="#231f20" stroke-width="1.05"/>
<circle cx="362.55" cy="709.26" r="2.6" fill="none" stroke="#231f20" stroke-width="1.05"/>
<circle cx="365.89" cy="709.8" r="2.6" fill="none" stroke="#231f20" stroke-width="1.05"/>
<circle cx="367.87" cy="710.59" r="2.6" fill="none" stroke="#231f20" stroke-width="1.05"/>
<circle cx="363.88" cy="713.25" r="2.6" fill="none" stroke="#231f20" stroke-width="1.05"/>
<circle cx="366.36" cy="713.63" r="2.6" fill="none" stroke="#231f20" stroke-width="1.05"/>
<circle cx="369.2" cy="714.58" r="2.6" fill="none" stroke="#231f20" stroke-width="1.05"/>
<circle cx="365.35" cy="717.29" r="2.6" fill="none" stroke="#231f20" stroke-width="1.05"/>
<circle cx="369.96" cy="716.95" r="2.6" fill="none" stroke="#231f20" stroke-width="1.05"/>
<circle cx="371.2" cy="717.9" r="2.6" fill="none" stroke="#231f20" stroke-width="1.05"/>
<circle cx="367.21" cy="719.23" r="2.6" fill="none" stroke="#231f20" stroke-width="1.05"/>
<circle cx="433.83" cy="632.88" r="2.6" fill="none" stroke="#231f20" stroke-width="1.05"/>
<circle cx="423.86" cy="636.34" r="2.6" fill="none" stroke="#231f20" stroke-width="1.05"/>
<circle cx="421.2" cy="643.91" r="2.6" fill="none" stroke="#231f20" stroke-width="1.05"/>
<circle cx="427.18" cy="655.22" r="2.6" fill="none" stroke="#231f20" stroke-width="1.05"/>
<circle cx="393.27" cy="647.24" r="2.6" fill="none" stroke="#231f20" stroke-width="1.05"/>
<circle cx="407.9" cy="646.57" r="2.6" fill="none" stroke="#231f20" stroke-width="1.05"/>
<circle cx="405.9" cy="648.57" r="2.6" fill="none" stroke="#231f20" stroke-width="1.05"/>
<circle cx="405.64" cy="653.22" r="2.6" fill="none" stroke="#231f20" stroke-width="1.05"/>
<circle cx="410.29" cy="658.81" r="2.6" fill="none" stroke="#231f20" stroke-width="1.05"/>
<circle cx="412.55" cy="665.86" r="2.6" fill="none" stroke="#231f20" stroke-width="1.05"/>
<circle cx="397.93" cy="662.8" r="2.6" fill="none" stroke="#231f20" stroke-width="1.05"/>
<circle cx="397.26" cy="667.85" r="2.6" fill="none" stroke="#231f20" stroke-width="1.05"/>
<circle cx="411.49" cy="674.5" r="2.6" fill="none" stroke="#231f20" stroke-width="1.05"/>
<circle cx="405.24" cy="692.45" r="2.6" fill="none" stroke="#231f20" stroke-width="1.05"/>
<circle cx="402.18" cy="687.13" r="2.6" fill="none" stroke="#231f20" stroke-width="1.05"/>
<circle cx="401.65" cy="687.8" r="2.6" fill="none" stroke="#231f20" stroke-width="1.05"/>
<circle cx="387.29" cy="670.51" r="2.6" fill="none" stroke="#231f20" stroke-width="1.05"/>
<circle cx="389.28" cy="673.17" r="2.6" fill="none" stroke="#231f20" stroke-width="1.05"/>
<circle cx="393.27" cy="673.17" r="2.6" fill="none" stroke="#231f20" stroke-width="1.05"/>
<circle cx="398.59" cy="673.17" r="2.6" fill="none" stroke="#231f20" stroke-width="1.05"/>
<circle cx="400.59" cy="674.5" r="2.6" fill="none" stroke="#231f20" stroke-width="1.05"/>
<circle cx="405.9" cy="670.51" r="2.6" fill="none" stroke="#231f20" stroke-width="1.05"/>
<circle cx="407.23" cy="673.17" r="2.6" fill="none" stroke="#231f20" stroke-width="1.05"/>
<circle cx="404.57" cy="675.83" r="2.6" fill="none" stroke="#231f20" stroke-width="1.05"/>
<circle cx="399.29" cy="676.23" r="2.6" fill="none" stroke="#231f20" stroke-width="1.05"/>
<circle cx="399.89" cy="677.42" r="2.6" fill="none" stroke="#231f20" stroke-width="1.05"/>
<circle cx="395.93" cy="675.83" r="2.6" fill="none" stroke="#231f20" stroke-width="1.05"/>
<circle cx="399.92" cy="679.82" r="2.6" fill="none" stroke="#231f20" stroke-width="1.05"/>
<circle cx="381.97" cy="678.49" r="2.6" fill="none" stroke="#231f20" stroke-width="1.05"/>
<circle cx="378.24" cy="682.48" r="2.6" fill="none" stroke="#231f20" stroke-width="1.05"/>
<circle cx="387.29" cy="681.15" r="2.6" fill="none" stroke="#231f20" stroke-width="1.05"/>
<circle cx="389.95" cy="680.48" r="2.6" fill="none" stroke="#231f20" stroke-width="1.05"/>
<circle cx="387.95" cy="684.47" r="2.6" fill="none" stroke="#231f20" stroke-width="1.05"/>
<circle cx="389.95" cy="685.14" r="2.6" fill="none" stroke="#231f20" stroke-width="1.05"/>
<circle cx="380.37" cy="687.8" r="2.6" fill="none" stroke="#231f20" stroke-width="1.05"/>
<circle cx="382.23" cy="692.85" r="2.6" fill="none" stroke="#231f20" stroke-width="1.05"/>
<circle cx="388.62" cy="691.79" r="2.6" fill="none" stroke="#231f20" stroke-width="1.05"/>
<circle cx="390.61" cy="689.13" r="2.6" fill="none" stroke="#231f20" stroke-width="1.05"/>
<circle cx="389.28" cy="695.78" r="2.6" fill="none" stroke="#231f20" stroke-width="1.05"/>
<circle cx="387.29" cy="701.36" r="2.6" fill="none" stroke="#231f20" stroke-width="1.05"/>
<circle cx="381.3" cy="702.43" r="2.6" fill="none" stroke="#231f20" stroke-width="1.05"/>
<circle cx="375.98" cy="697.77" r="2.6" fill="none" stroke="#231f20" stroke-width="1.05"/>
<circle cx="371.99" cy="694.45" r="2.6" fill="none" stroke="#231f20" stroke-width="1.05"/>
<circle cx="373.41" cy="698.88" r="2.6" fill="none" stroke="#231f20" stroke-width="1.05"/>
<circle cx="371.33" cy="705.09" r="2.6" fill="none" stroke="#231f20" stroke-width="1.05"/>
<circle cx="374.65" cy="705.75" r="2.6" fill="none" stroke="#231f20" stroke-width="1.05"/>
<circle cx="377.98" cy="706.41" r="2.6" fill="none" stroke="#231f20" stroke-width="1.05"/>
<circle cx="370.66" cy="697.11" r="2.6" fill="none" stroke="#231f20" stroke-width="1.05"/>
<circle cx="373.32" cy="709.74" r="2.6" fill="none" stroke="#231f20" stroke-width="1.05"/>
<circle cx="369.91" cy="699.91" r="2.6" fill="none" stroke="#231f20" stroke-width="1.05"/>
<circle cx="472.3" cy="621.5" r="2.6" fill="none" stroke="#231f20" stroke-width="1.05"/>
<rect x="308.5" y="582.75" width="188.8" height="196.45" fill="none" stroke="#231f20" stroke-width="1.15"/>
<line x1="334.5" y1="779.2" x2="334.5" y2="787.1" stroke="#231f20" stroke-width="1.15"/>
<line x1="300.6" y1="751.71" x2="308.5" y2="751.71" stroke="#231f20" stroke-width="1.15"/>
<text x="334.5" y="805.4" font-size="16.7" text-anchor="middle">0.5</text>
<text x="291.6" y="751.71" font-size="16.7" text-anchor="middle" transform="rotate(-90 291.6 751.71)">0.5</text>
<line x1="373.45" y1="779.2" x2="373.45" y2="787.1" stroke="#231f20" stroke-width="1.15"/>
<line x1="300.6" y1="711.29" x2="308.5" y2="711.29" stroke="#231f20" stroke-width="1.15"/>
<text x="373.45" y="805.4" font-size="16.7" text-anchor="middle">0.6</text>
<text x="291.6" y="711.29" font-size="16.7" text-anchor="middle" transform="rotate(-90 291.6 711.29)">0.6</text>
<line x1="412.4" y1="779.2" x2="412.4" y2="787.1" stroke="#231f20" stroke-width="1.15"/>
<line x1="300.6" y1="670.87" x2="308.5" y2="670.87" stroke="#231f20" stroke-width="1.15"/>
<text x="412.4" y="805.4" font-size="16.7" text-anchor="middle">0.7</text>
<text x="291.6" y="670.87" font-size="16.7" text-anchor="middle" transform="rotate(-90 291.6 670.87)">0.7</text>
<line x1="451.35" y1="779.2" x2="451.35" y2="787.1" stroke="#231f20" stroke-width="1.15"/>
<line x1="300.6" y1="630.45" x2="308.5" y2="630.45" stroke="#231f20" stroke-width="1.15"/>
<text x="451.35" y="805.4" font-size="16.7" text-anchor="middle">0.8</text>
<text x="291.6" y="630.45" font-size="16.7" text-anchor="middle" transform="rotate(-90 291.6 630.45)">0.8</text>
<line x1="490.3" y1="779.2" x2="490.3" y2="787.1" stroke="#231f20" stroke-width="1.15"/>
<line x1="300.6" y1="590.03" x2="308.5" y2="590.03" stroke="#231f20" stroke-width="1.15"/>
<text x="490.3" y="805.4" font-size="16.7" text-anchor="middle">0.9</text>
<text x="291.6" y="590.03" font-size="16.7" text-anchor="middle" transform="rotate(-90 291.6 590.03)">0.9</text>
<text x="322.5" y="610.85" font-size="16.7" text-anchor="start">% ancestral fossils</text>
<text x="410" y="767.9" font-size="16.7" text-anchor="middle">True</text>
<path d="M598.77 758.3V764.2 M598.77 772.1V768.3" fill="none" stroke="#1a1a1a" stroke-width="1.25" stroke-dasharray="4.6 4.55" stroke-dashoffset="0.5"/>
<line x1="587.1" y1="758.3" x2="610.43" y2="758.3" stroke="#1a1a1a" stroke-width="1.3" stroke-linecap="round"/>
<line x1="587.1" y1="772.1" x2="610.43" y2="772.1" stroke="#1a1a1a" stroke-width="1.3" stroke-linecap="round"/>
<rect x="575.43" y="764.2" width="46.67" height="4.1" fill="#2a2a2a" stroke="#1a1a1a" stroke-width="1.35"/>
<line x1="575.43" y1="766.25" x2="622.1" y2="766.25" stroke="#161616" stroke-width="3.8"/>
<circle cx="598.77" cy="754.5" r="1.65" fill="none" stroke="#231f20" stroke-width="1.2"/>
<circle cx="598.77" cy="755.5" r="1.65" fill="none" stroke="#231f20" stroke-width="1.2"/>
<circle cx="598.77" cy="753.8" r="1.65" fill="none" stroke="#231f20" stroke-width="1.2"/>
<line x1="598.77" y1="779.2" x2="598.77" y2="787.1" stroke="#231f20" stroke-width="1.15"/>
<text x="599.27" y="805.4" font-size="16.7" text-anchor="middle" font-style="italic">d</text>
<path d="M657.1 590V607.75 M657.1 671V634.5" fill="none" stroke="#1a1a1a" stroke-width="1.25" stroke-dasharray="4.6 4.55" stroke-dashoffset="0.5"/>
<line x1="645.43" y1="590" x2="668.77" y2="590" stroke="#1a1a1a" stroke-width="1.3" stroke-linecap="round"/>
<line x1="645.43" y1="671" x2="668.77" y2="671" stroke="#1a1a1a" stroke-width="1.3" stroke-linecap="round"/>
<rect x="633.77" y="607.75" width="46.67" height="26.75" fill="#646464" stroke="#1a1a1a" stroke-width="1.35"/>
<line x1="633.77" y1="617.5" x2="680.43" y2="617.5" stroke="#161616" stroke-width="3.8"/>
<circle cx="657.1" cy="679.75" r="1.65" fill="none" stroke="#231f20" stroke-width="1.2"/>
<circle cx="657.1" cy="680.5" r="1.65" fill="none" stroke="#231f20" stroke-width="1.2"/>
<circle cx="657.1" cy="694" r="1.65" fill="none" stroke="#231f20" stroke-width="1.2"/>
<line x1="657.1" y1="779.2" x2="657.1" y2="787.1" stroke="#231f20" stroke-width="1.15"/>
<text x="657.6" y="805.4" font-size="16.7" text-anchor="middle" font-style="italic">r</text>
<path d="M715.43 617.75V648.5 M715.43 689V671" fill="none" stroke="#1a1a1a" stroke-width="1.25" stroke-dasharray="4.6 4.55" stroke-dashoffset="0.5"/>
<line x1="703.77" y1="617.75" x2="727.1" y2="617.75" stroke="#1a1a1a" stroke-width="1.3" stroke-linecap="round"/>
<line x1="703.77" y1="689" x2="727.1" y2="689" stroke="#1a1a1a" stroke-width="1.3" stroke-linecap="round"/>
<rect x="692.1" y="648.5" width="46.67" height="22.5" fill="#868686" stroke="#1a1a1a" stroke-width="1.35"/>
<line x1="692.1" y1="659" x2="738.77" y2="659" stroke="#161616" stroke-width="3.8"/>
<line x1="715.43" y1="779.2" x2="715.43" y2="787.1" stroke="#231f20" stroke-width="1.15"/>
<text x="715.93" y="805.4" font-size="16.7" text-anchor="middle" font-style="italic">s</text>
<line x1="561.55" y1="757.4" x2="752" y2="757.4" stroke="#5c5c5c" stroke-width="1.3" stroke-dasharray="4.0 2.155"/>
<line x1="561.55" y1="702.4" x2="752" y2="702.4" stroke="#5c5c5c" stroke-width="1.3" stroke-dasharray="4.0 2.155"/>
<line x1="561.55" y1="623.5" x2="752" y2="623.5" stroke="#5c5c5c" stroke-width="1.3" stroke-dasharray="4.0 2.155"/>
<rect x="562.6" y="582.75" width="189" height="196.45" fill="none" stroke="#231f20" stroke-width="1.15"/>
<line x1="554.7" y1="592" x2="562.6" y2="592" stroke="#231f20" stroke-width="1.15"/>
<line x1="554.7" y1="623.5" x2="562.6" y2="623.5" stroke="#231f20" stroke-width="1.15"/>
<line x1="554.7" y1="662.8" x2="562.6" y2="662.8" stroke="#231f20" stroke-width="1.15"/>
<line x1="554.7" y1="702.4" x2="562.6" y2="702.4" stroke="#231f20" stroke-width="1.15"/>
<line x1="554.7" y1="733.5" x2="562.6" y2="733.5" stroke="#231f20" stroke-width="1.15"/>
<line x1="554.7" y1="757" x2="562.6" y2="757" stroke="#231f20" stroke-width="1.15"/>
<text x="545.7" y="757.4" font-size="16.7" text-anchor="middle" transform="rotate(-90 545.7 757.4)">0.1</text>
<text x="545.7" y="702.4" font-size="16.7" text-anchor="middle" transform="rotate(-90 545.7 702.4)">0.33</text>
<text x="545.7" y="623.5" font-size="16.7" text-anchor="middle" transform="rotate(-90 545.7 623.5)">0.67</text>
<text x="37.2" y="842.1" font-size="20.0" text-anchor="start">d) Random Sampling (D)</text>
<line x1="61.1" y1="1046.87" x2="235.89" y2="864.98" stroke="#231f20" stroke-width="1.15" stroke-linecap="round"/>
<circle cx="220.86" cy="878.11" r="2.6" fill="none" stroke="#231f20" stroke-width="1.05"/>
<circle cx="224.45" cy="874.83" r="2.6" fill="none" stroke="#231f20" stroke-width="1.05"/>
<circle cx="211.82" cy="886.71" r="2.6" fill="none" stroke="#231f20" stroke-width="1.05"/>
<circle cx="212.48" cy="887.4" r="2.6" fill="none" stroke="#231f20" stroke-width="1.05"/>
<circle cx="203.84" cy="898.62" r="2.6" fill="none" stroke="#231f20" stroke-width="1.05"/>
<circle cx="189.21" cy="911.67" r="2.6" fill="none" stroke="#231f20" stroke-width="1.05"/>
<circle cx="187.22" cy="914.19" r="2.6" fill="none" stroke="#231f20" stroke-width="1.05"/>
<circle cx="185.22" cy="919.3" r="2.6" fill="none" stroke="#231f20" stroke-width="1.05"/>
<circle cx="182.56" cy="916.68" r="2.6" fill="none" stroke="#231f20" stroke-width="1.05"/>
<circle cx="179.9" cy="921.49" r="2.6" fill="none" stroke="#231f20" stroke-width="1.05"/>
<circle cx="181.9" cy="922.28" r="2.6" fill="none" stroke="#231f20" stroke-width="1.05"/>
<circle cx="183.23" cy="920.6" r="2.6" fill="none" stroke="#231f20" stroke-width="1.05"/>
<circle cx="177.91" cy="928.4" r="2.6" fill="none" stroke="#231f20" stroke-width="1.05"/>
<circle cx="172.59" cy="930.93" r="2.6" fill="none" stroke="#231f20" stroke-width="1.05"/>
<circle cx="171.26" cy="932.8" r="2.6" fill="none" stroke="#231f20" stroke-width="1.05"/>
<circle cx="168.6" cy="933.31" r="2.6" fill="none" stroke="#231f20" stroke-width="1.05"/>
<circle cx="167.27" cy="934.78" r="2.6" fill="none" stroke="#231f20" stroke-width="1.05"/>
<circle cx="165.28" cy="936.71" r="2.6" fill="none" stroke="#231f20" stroke-width="1.05"/>
<circle cx="157.96" cy="941.81" r="2.6" fill="none" stroke="#231f20" stroke-width="1.05"/>
<circle cx="157.3" cy="950.47" r="2.6" fill="none" stroke="#231f20" stroke-width="1.05"/>
<circle cx="155.97" cy="948.91" r="2.6" fill="none" stroke="#231f20" stroke-width="1.05"/>
<circle cx="153.31" cy="949.17" r="2.6" fill="none" stroke="#231f20" stroke-width="1.05"/>
<circle cx="150.65" cy="950.62" r="2.6" fill="none" stroke="#231f20" stroke-width="1.05"/>
<circle cx="147.32" cy="950.57" r="2.6" fill="none" stroke="#231f20" stroke-width="1.05"/>
<circle cx="151.98" cy="951.27" r="2.6" fill="none" stroke="#231f20" stroke-width="1.05"/>
<circle cx="148.65" cy="954.47" r="2.6" fill="none" stroke="#231f20" stroke-width="1.05"/>
<circle cx="145.99" cy="954.51" r="2.6" fill="none" stroke="#231f20" stroke-width="1.05"/>
<circle cx="71.02" cy="1035.26" r="2.6" fill="none" stroke="#231f20" stroke-width="1.05"/>
<circle cx="79.27" cy="1027.17" r="2.6" fill="none" stroke="#231f20" stroke-width="1.05"/>
<circle cx="80.6" cy="1029.9" r="2.6" fill="none" stroke="#231f20" stroke-width="1.05"/>
<circle cx="82.59" cy="1021.98" r="2.6" fill="none" stroke="#231f20" stroke-width="1.05"/>
<circle cx="85.65" cy="1022.19" r="2.6" fill="none" stroke="#231f20" stroke-width="1.05"/>
<circle cx="85.25" cy="1017.3" r="2.6" fill="none" stroke="#231f20" stroke-width="1.05"/>
<circle cx="89.9" cy="1018.4" r="2.6" fill="none" stroke="#231f20" stroke-width="1.05"/>
<circle cx="91.23" cy="1014.13" r="2.6" fill="none" stroke="#231f20" stroke-width="1.05"/>
<circle cx="93.63" cy="1014.8" r="2.6" fill="none" stroke="#231f20" stroke-width="1.05"/>
<circle cx="101.87" cy="997.16" r="2.6" fill="none" stroke="#231f20" stroke-width="1.05"/>
<circle cx="107.19" cy="1006.92" r="2.6" fill="none" stroke="#231f20" stroke-width="1.05"/>
<circle cx="107.86" cy="1004.3" r="2.6" fill="none" stroke="#231f20" stroke-width="1.05"/>
<circle cx="111.85" cy="997.48" r="2.6" fill="none" stroke="#231f20" stroke-width="1.05"/>
<circle cx="126.47" cy="975.86" r="2.6" fill="none" stroke="#231f20" stroke-width="1.05"/>
<circle cx="126.47" cy="984.74" r="2.6" fill="none" stroke="#231f20" stroke-width="1.05"/>
<circle cx="137.11" cy="962.77" r="2.6" fill="none" stroke="#231f20" stroke-width="1.05"/>
<circle cx="139.11" cy="970.8" r="2.6" fill="none" stroke="#231f20" stroke-width="1.05"/>
<circle cx="144.43" cy="959.93" r="2.6" fill="none" stroke="#231f20" stroke-width="1.05"/>
<circle cx="144.62" cy="959.32" r="2.6" fill="none" stroke="#231f20" stroke-width="1.05"/>
<circle cx="145.78" cy="958.54" r="2.6" fill="none" stroke="#231f20" stroke-width="1.05"/>
<circle cx="146.26" cy="956.26" r="2.6" fill="none" stroke="#231f20" stroke-width="1.05"/>
<circle cx="147.82" cy="955.8" r="2.6" fill="none" stroke="#231f20" stroke-width="1.05"/>
<circle cx="147.91" cy="954.5" r="2.6" fill="none" stroke="#231f20" stroke-width="1.05"/>
<circle cx="149.57" cy="954.43" r="2.6" fill="none" stroke="#231f20" stroke-width="1.05"/>
<circle cx="151.2" cy="952.32" r="2.6" fill="none" stroke="#231f20" stroke-width="1.05"/>
<circle cx="151.53" cy="952.22" r="2.6" fill="none" stroke="#231f20" stroke-width="1.05"/>
<circle cx="154.65" cy="952.3" r="2.6" fill="none" stroke="#231f20" stroke-width="1.05"/>
<circle cx="154.09" cy="951.33" r="2.6" fill="none" stroke="#231f20" stroke-width="1.05"/>
<circle cx="157.96" cy="950.46" r="2.6" fill="none" stroke="#231f20" stroke-width="1.05"/>
<circle cx="157.17" cy="948.28" r="2.6" fill="none" stroke="#231f20" stroke-width="1.05"/>
<circle cx="133.15" cy="973.68" r="2.6" fill="none" stroke="#231f20" stroke-width="1.05"/>
<circle cx="134.2" cy="972.85" r="2.6" fill="none" stroke="#231f20" stroke-width="1.05"/>
<circle cx="132.85" cy="970.73" r="2.6" fill="none" stroke="#231f20" stroke-width="1.05"/>
<circle cx="134.11" cy="970.24" r="2.6" fill="none" stroke="#231f20" stroke-width="1.05"/>
<circle cx="135.78" cy="970.86" r="2.6" fill="none" stroke="#231f20" stroke-width="1.05"/>
<circle cx="136.05" cy="969.77" r="2.6" fill="none" stroke="#231f20" stroke-width="1.05"/>
<circle cx="136.22" cy="969.37" r="2.6" fill="none" stroke="#231f20" stroke-width="1.05"/>
<circle cx="137.83" cy="968.49" r="2.6" fill="none" stroke="#231f20" stroke-width="1.05"/>
<circle cx="137.59" cy="968.21" r="2.6" fill="none" stroke="#231f20" stroke-width="1.05"/>
<circle cx="140.37" cy="969.63" r="2.6" fill="none" stroke="#231f20" stroke-width="1.05"/>
<circle cx="138.29" cy="966.58" r="2.6" fill="none" stroke="#231f20" stroke-width="1.05"/>
<circle cx="139.84" cy="966.54" r="2.6" fill="none" stroke="#231f20" stroke-width="1.05"/>
<circle cx="118.04" cy="986.42" r="2.6" fill="none" stroke="#231f20" stroke-width="1.05"/>
<circle cx="121.23" cy="989.43" r="2.6" fill="none" stroke="#231f20" stroke-width="1.05"/>
<circle cx="119.62" cy="985.57" r="2.6" fill="none" stroke="#231f20" stroke-width="1.05"/>
<circle cx="119.72" cy="984.34" r="2.6" fill="none" stroke="#231f20" stroke-width="1.05"/>
<circle cx="119.81" cy="984.21" r="2.6" fill="none" stroke="#231f20" stroke-width="1.05"/>
<circle cx="120.13" cy="983.25" r="2.6" fill="none" stroke="#231f20" stroke-width="1.05"/>
<circle cx="121.65" cy="983.82" r="2.6" fill="none" stroke="#231f20" stroke-width="1.05"/>
<circle cx="123.84" cy="984.12" r="2.6" fill="none" stroke="#231f20" stroke-width="1.05"/>
<circle cx="121.55" cy="981.09" r="2.6" fill="none" stroke="#231f20" stroke-width="1.05"/>
<circle cx="124.41" cy="982.43" r="2.6" fill="none" stroke="#231f20" stroke-width="1.05"/>
<circle cx="124.1" cy="982.37" r="2.6" fill="none" stroke="#231f20" stroke-width="1.05"/>
<circle cx="124.7" cy="980.98" r="2.6" fill="none" stroke="#231f20" stroke-width="1.05"/>
<circle cx="127.14" cy="983.28" r="2.6" fill="none" stroke="#231f20" stroke-width="1.05"/>
<circle cx="125.82" cy="980.52" r="2.6" fill="none" stroke="#231f20" stroke-width="1.05"/>
<circle cx="109.99" cy="994.52" r="2.6" fill="none" stroke="#231f20" stroke-width="1.05"/>
<circle cx="110.69" cy="993.78" r="2.6" fill="none" stroke="#231f20" stroke-width="1.05"/>
<circle cx="111.59" cy="993.21" r="2.6" fill="none" stroke="#231f20" stroke-width="1.05"/>
<circle cx="112.73" cy="991.7" r="2.6" fill="none" stroke="#231f20" stroke-width="1.05"/>
<circle cx="112.8" cy="992.33" r="2.6" fill="none" stroke="#231f20" stroke-width="1.05"/>
<circle cx="114.91" cy="991.99" r="2.6" fill="none" stroke="#231f20" stroke-width="1.05"/>
<circle cx="113.14" cy="991.39" r="2.6" fill="none" stroke="#231f20" stroke-width="1.05"/>
<circle cx="115.84" cy="990.8" r="2.6" fill="none" stroke="#231f20" stroke-width="1.05"/>
<circle cx="116.63" cy="990.56" r="2.6" fill="none" stroke="#231f20" stroke-width="1.05"/>
<circle cx="96.14" cy="1008.27" r="2.6" fill="none" stroke="#231f20" stroke-width="1.05"/>
<circle cx="98.72" cy="1009.83" r="2.6" fill="none" stroke="#231f20" stroke-width="1.05"/>
<circle cx="95.95" cy="1005.7" r="2.6" fill="none" stroke="#231f20" stroke-width="1.05"/>
<circle cx="97.92" cy="1006.85" r="2.6" fill="none" stroke="#231f20" stroke-width="1.05"/>
<circle cx="99.04" cy="1008.16" r="2.6" fill="none" stroke="#231f20" stroke-width="1.05"/>
<circle cx="98.87" cy="1006.03" r="2.6" fill="none" stroke="#231f20" stroke-width="1.05"/>
<circle cx="99.31" cy="1005.73" r="2.6" fill="none" stroke="#231f20" stroke-width="1.05"/>
<circle cx="97.65" cy="1003.84" r="2.6" fill="none" stroke="#231f20" stroke-width="1.05"/>
<circle cx="99.32" cy="1003.82" r="2.6" fill="none" stroke="#231f20" stroke-width="1.05"/>
<circle cx="99.57" cy="1003.32" r="2.6" fill="none" stroke="#231f20" stroke-width="1.05"/>
<circle cx="99.89" cy="1004.31" r="2.6" fill="none" stroke="#231f20" stroke-width="1.05"/>
<circle cx="101.89" cy="1003.81" r="2.6" fill="none" stroke="#231f20" stroke-width="1.05"/>
<circle cx="100.19" cy="1000.91" r="2.6" fill="none" stroke="#231f20" stroke-width="1.05"/>
<circle cx="101.86" cy="1002.05" r="2.6" fill="none" stroke="#231f20" stroke-width="1.05"/>
<circle cx="102.96" cy="1001.87" r="2.6" fill="none" stroke="#231f20" stroke-width="1.05"/>
<circle cx="103.45" cy="1002.52" r="2.6" fill="none" stroke="#231f20" stroke-width="1.05"/>
<circle cx="103.61" cy="1001.8" r="2.6" fill="none" stroke="#231f20" stroke-width="1.05"/>
<circle cx="103.89" cy="1000.43" r="2.6" fill="none" stroke="#231f20" stroke-width="1.05"/>
<circle cx="104.22" cy="1000.2" r="2.6" fill="none" stroke="#231f20" stroke-width="1.05"/>
<circle cx="104.49" cy="998.93" r="2.6" fill="none" stroke="#231f20" stroke-width="1.05"/>
<rect x="54.3" y="857.7" width="188.9" height="196.45" fill="none" stroke="#231f20" stroke-width="1.15"/>
<line x1="61.1" y1="1054.15" x2="61.1" y2="1062.05" stroke="#231f20" stroke-width="1.15"/>
<line x1="46.4" y1="1046.87" x2="54.3" y2="1046.87" stroke="#231f20" stroke-width="1.15"/>
<text x="61.1" y="1080.35" font-size="16.7" text-anchor="middle">10</text>
<text x="37.4" y="1046.87" font-size="16.7" text-anchor="middle" transform="rotate(-90 37.4 1046.87)">10</text>
<line x1="86.07" y1="1054.15" x2="86.07" y2="1062.05" stroke="#231f20" stroke-width="1.15"/>
<line x1="46.4" y1="1020.89" x2="54.3" y2="1020.89" stroke="#231f20" stroke-width="1.15"/>
<line x1="111.04" y1="1054.15" x2="111.04" y2="1062.05" stroke="#231f20" stroke-width="1.15"/>
<line x1="46.4" y1="994.9" x2="54.3" y2="994.9" stroke="#231f20" stroke-width="1.15"/>
<text x="111.04" y="1080.35" font-size="16.7" text-anchor="middle">30</text>
<text x="37.4" y="994.9" font-size="16.7" text-anchor="middle" transform="rotate(-90 37.4 994.9)">30</text>
<line x1="136.01" y1="1054.15" x2="136.01" y2="1062.05" stroke="#231f20" stroke-width="1.15"/>
<line x1="46.4" y1="968.92" x2="54.3" y2="968.92" stroke="#231f20" stroke-width="1.15"/>
<line x1="160.98" y1="1054.15" x2="160.98" y2="1062.05" stroke="#231f20" stroke-width="1.15"/>
<line x1="46.4" y1="942.93" x2="54.3" y2="942.93" stroke="#231f20" stroke-width="1.15"/>
<text x="160.98" y="1080.35" font-size="16.7" text-anchor="middle">50</text>
<text x="37.4" y="942.93" font-size="16.7" text-anchor="middle" transform="rotate(-90 37.4 942.93)">50</text>
<line x1="185.95" y1="1054.15" x2="185.95" y2="1062.05" stroke="#231f20" stroke-width="1.15"/>
<line x1="46.4" y1="916.95" x2="54.3" y2="916.95" stroke="#231f20" stroke-width="1.15"/>
<line x1="210.92" y1="1054.15" x2="210.92" y2="1062.05" stroke="#231f20" stroke-width="1.15"/>
<line x1="46.4" y1="890.96" x2="54.3" y2="890.96" stroke="#231f20" stroke-width="1.15"/>
<text x="210.92" y="1080.35" font-size="16.7" text-anchor="middle">70</text>
<text x="37.4" y="890.96" font-size="16.7" text-anchor="middle" transform="rotate(-90 37.4 890.96)">70</text>
<line x1="235.89" y1="1054.15" x2="235.89" y2="1062.05" stroke="#231f20" stroke-width="1.15"/>
<line x1="46.4" y1="864.98" x2="54.3" y2="864.98" stroke="#231f20" stroke-width="1.15"/>
<text x="12.2" y="955.93" font-size="16.7" text-anchor="middle" transform="rotate(-90 12.2 955.93)">Estimated</text>
<text x="83.5" y="885.6" font-size="16.7" text-anchor="start">root age</text>
<text x="149.9" y="1044.25" font-size="16.7" text-anchor="middle">True</text>
<line x1="315.02" y1="1046.87" x2="490.3" y2="864.98" stroke="#231f20" stroke-width="1.15" stroke-linecap="round"/>
<circle cx="337.95" cy="1011.79" r="2.6" fill="none" stroke="#231f20" stroke-width="1.05"/>
<circle cx="339.95" cy="1027.74" r="2.6" fill="none" stroke="#231f20" stroke-width="1.05"/>
<circle cx="351.25" cy="1025.75" r="2.6" fill="none" stroke="#231f20" stroke-width="1.05"/>
<circle cx="351.91" cy="1017.51" r="2.6" fill="none" stroke="#231f20" stroke-width="1.05"/>
<circle cx="350.32" cy="1014.18" r="2.6" fill="none" stroke="#231f20" stroke-width="1.05"/>
<circle cx="348.59" cy="1012.85" r="2.6" fill="none" stroke="#231f20" stroke-width="1.05"/>
<circle cx="351.25" cy="1007.53" r="2.6" fill="none" stroke="#231f20" stroke-width="1.05"/>
<circle cx="354.31" cy="1009.93" r="2.6" fill="none" stroke="#231f20" stroke-width="1.05"/>
<circle cx="360.56" cy="1015.11" r="2.6" fill="none" stroke="#231f20" stroke-width="1.05"/>
<circle cx="373.46" cy="1012.85" r="2.6" fill="none" stroke="#231f20" stroke-width="1.05"/>
<circle cx="367.21" cy="1009.13" r="2.6" fill="none" stroke="#231f20" stroke-width="1.05"/>
<circle cx="362.29" cy="1010.19" r="2.6" fill="none" stroke="#231f20" stroke-width="1.05"/>
<circle cx="357.9" cy="966.97" r="2.6" fill="none" stroke="#231f20" stroke-width="1.05"/>
<circle cx="356.17" cy="981.2" r="2.6" fill="none" stroke="#231f20" stroke-width="1.05"/>
<circle cx="361.22" cy="979.61" r="2.6" fill="none" stroke="#231f20" stroke-width="1.05"/>
<circle cx="380.9" cy="988.25" r="2.6" fill="none" stroke="#231f20" stroke-width="1.05"/>
<circle cx="387.15" cy="992.24" r="2.6" fill="none" stroke="#231f20" stroke-width="1.05"/>
<circle cx="356.57" cy="997.56" r="2.6" fill="none" stroke="#231f20" stroke-width="1.05"/>
<circle cx="376.12" cy="1001.55" r="2.6" fill="none" stroke="#231f20" stroke-width="1.05"/>
<circle cx="377.85" cy="994.9" r="2.6" fill="none" stroke="#231f20" stroke-width="1.05"/>
<circle cx="371.2" cy="1003.54" r="2.6" fill="none" stroke="#231f20" stroke-width="1.05"/>
<circle cx="359.23" cy="982.93" r="2.6" fill="none" stroke="#231f20" stroke-width="1.05"/>
<circle cx="361.89" cy="981.6" r="2.6" fill="none" stroke="#231f20" stroke-width="1.05"/>
<circle cx="364.55" cy="983.6" r="2.6" fill="none" stroke="#231f20" stroke-width="1.05"/>
<circle cx="367.21" cy="982.27" r="2.6" fill="none" stroke="#231f20" stroke-width="1.05"/>
<circle cx="369.87" cy="982.93" r="2.6" fill="none" stroke="#231f20" stroke-width="1.05"/>
<circle cx="360.56" cy="986.92" r="2.6" fill="none" stroke="#231f20" stroke-width="1.05"/>
<circle cx="363.22" cy="987.59" r="2.6" fill="none" stroke="#231f20" stroke-width="1.05"/>
<circle cx="365.88" cy="986.92" r="2.6" fill="none" stroke="#231f20" stroke-width="1.05"/>
<circle cx="368.54" cy="988.25" r="2.6" fill="none" stroke="#231f20" stroke-width="1.05"/>
<circle cx="371.2" cy="987.59" r="2.6" fill="none" stroke="#231f20" stroke-width="1.05"/>
<circle cx="373.86" cy="988.91" r="2.6" fill="none" stroke="#231f20" stroke-width="1.05"/>
<circle cx="359.89" cy="991.84" r="2.6" fill="none" stroke="#231f20" stroke-width="1.05"/>
<circle cx="362.55" cy="991.31" r="2.6" fill="none" stroke="#231f20" stroke-width="1.05"/>
<circle cx="365.21" cy="991.84" r="2.6" fill="none" stroke="#231f20" stroke-width="1.05"/>
<circle cx="367.87" cy="991.31" r="2.6" fill="none" stroke="#231f20" stroke-width="1.05"/>
<circle cx="370.53" cy="992.24" r="2.6" fill="none" stroke="#231f20" stroke-width="1.05"/>
<circle cx="373.19" cy="992.9" r="2.6" fill="none" stroke="#231f20" stroke-width="1.05"/>
<circle cx="361.22" cy="995.56" r="2.6" fill="none" stroke="#231f20" stroke-width="1.05"/>
<circle cx="363.88" cy="996.23" r="2.6" fill="none" stroke="#231f20" stroke-width="1.05"/>
<circle cx="370.16" cy="996.29" r="2.6" fill="none" stroke="#231f20" stroke-width="1.05"/>
<circle cx="369.2" cy="996.89" r="2.6" fill="none" stroke="#231f20" stroke-width="1.05"/>
<circle cx="372.53" cy="996.23" r="2.6" fill="none" stroke="#231f20" stroke-width="1.05"/>
<circle cx="359.89" cy="1001.55" r="2.6" fill="none" stroke="#231f20" stroke-width="1.05"/>
<circle cx="364.08" cy="1005.12" r="2.6" fill="none" stroke="#231f20" stroke-width="1.05"/>
<circle cx="366.24" cy="1001.19" r="2.6" fill="none" stroke="#231f20" stroke-width="1.05"/>
<circle cx="366.47" cy="1002.07" r="2.6" fill="none" stroke="#231f20" stroke-width="1.05"/>
<circle cx="361.8" cy="1005.54" r="2.6" fill="none" stroke="#231f20" stroke-width="1.05"/>
<circle cx="366.54" cy="1005.54" r="2.6" fill="none" stroke="#231f20" stroke-width="1.05"/>
<circle cx="361.22" cy="1005.54" r="2.6" fill="none" stroke="#231f20" stroke-width="1.05"/>
<circle cx="366.38" cy="998.6" r="2.6" fill="none" stroke="#231f20" stroke-width="1.05"/>
<circle cx="433.83" cy="918.91" r="2.6" fill="none" stroke="#231f20" stroke-width="1.05"/>
<circle cx="423.19" cy="926.89" r="2.6" fill="none" stroke="#231f20" stroke-width="1.05"/>
<circle cx="421.2" cy="928.89" r="2.6" fill="none" stroke="#231f20" stroke-width="1.05"/>
<circle cx="426.91" cy="944.18" r="2.6" fill="none" stroke="#231f20" stroke-width="1.05"/>
<circle cx="393.27" cy="933.81" r="2.6" fill="none" stroke="#231f20" stroke-width="1.05"/>
<circle cx="406.17" cy="932.88" r="2.6" fill="none" stroke="#231f20" stroke-width="1.05"/>
<circle cx="405.24" cy="937.27" r="2.6" fill="none" stroke="#231f20" stroke-width="1.05"/>
<circle cx="407.9" cy="937.53" r="2.6" fill="none" stroke="#231f20" stroke-width="1.05"/>
<circle cx="410.29" cy="948.44" r="2.6" fill="none" stroke="#231f20" stroke-width="1.05"/>
<circle cx="412.55" cy="951.89" r="2.6" fill="none" stroke="#231f20" stroke-width="1.05"/>
<circle cx="397.93" cy="950.83" r="2.6" fill="none" stroke="#231f20" stroke-width="1.05"/>
<circle cx="411.49" cy="963.86" r="2.6" fill="none" stroke="#231f20" stroke-width="1.05"/>
<circle cx="389.28" cy="954.82" r="2.6" fill="none" stroke="#231f20" stroke-width="1.05"/>
<circle cx="394.6" cy="955.48" r="2.6" fill="none" stroke="#231f20" stroke-width="1.05"/>
<circle cx="397.93" cy="955.48" r="2.6" fill="none" stroke="#231f20" stroke-width="1.05"/>
<circle cx="381.97" cy="961.87" r="2.6" fill="none" stroke="#231f20" stroke-width="1.05"/>
<circle cx="387.29" cy="959.47" r="2.6" fill="none" stroke="#231f20" stroke-width="1.05"/>
<circle cx="393.27" cy="959.87" r="2.6" fill="none" stroke="#231f20" stroke-width="1.05"/>
<circle cx="398.59" cy="961.47" r="2.6" fill="none" stroke="#231f20" stroke-width="1.05"/>
<circle cx="401.25" cy="959.47" r="2.6" fill="none" stroke="#231f20" stroke-width="1.05"/>
<circle cx="405.9" cy="958.81" r="2.6" fill="none" stroke="#231f20" stroke-width="1.05"/>
<circle cx="407.9" cy="960.14" r="2.6" fill="none" stroke="#231f20" stroke-width="1.05"/>
<circle cx="406.57" cy="962.8" r="2.6" fill="none" stroke="#231f20" stroke-width="1.05"/>
<circle cx="403.91" cy="964.79" r="2.6" fill="none" stroke="#231f20" stroke-width="1.05"/>
<circle cx="398.53" cy="964.88" r="2.6" fill="none" stroke="#231f20" stroke-width="1.05"/>
<circle cx="397.26" cy="964.13" r="2.6" fill="none" stroke="#231f20" stroke-width="1.05"/>
<circle cx="398.59" cy="966.79" r="2.6" fill="none" stroke="#231f20" stroke-width="1.05"/>
<circle cx="391.28" cy="964.13" r="2.6" fill="none" stroke="#231f20" stroke-width="1.05"/>
<circle cx="387.95" cy="964.13" r="2.6" fill="none" stroke="#231f20" stroke-width="1.05"/>
<circle cx="387.29" cy="968.12" r="2.6" fill="none" stroke="#231f20" stroke-width="1.05"/>
<circle cx="389.95" cy="969.45" r="2.6" fill="none" stroke="#231f20" stroke-width="1.05"/>
<circle cx="387.95" cy="972.11" r="2.6" fill="none" stroke="#231f20" stroke-width="1.05"/>
<circle cx="401.25" cy="968.78" r="2.6" fill="none" stroke="#231f20" stroke-width="1.05"/>
<circle cx="401.91" cy="973.44" r="2.6" fill="none" stroke="#231f20" stroke-width="1.05"/>
<circle cx="403.24" cy="978.49" r="2.6" fill="none" stroke="#231f20" stroke-width="1.05"/>
<circle cx="405.64" cy="982.08" r="2.6" fill="none" stroke="#231f20" stroke-width="1.05"/>
<circle cx="378.64" cy="970.51" r="2.6" fill="none" stroke="#231f20" stroke-width="1.05"/>
<circle cx="380.37" cy="974.5" r="2.6" fill="none" stroke="#231f20" stroke-width="1.05"/>
<circle cx="387.95" cy="976.1" r="2.6" fill="none" stroke="#231f20" stroke-width="1.05"/>
<circle cx="389.95" cy="978.76" r="2.6" fill="none" stroke="#231f20" stroke-width="1.05"/>
<circle cx="385.96" cy="978.76" r="2.6" fill="none" stroke="#231f20" stroke-width="1.05"/>
<circle cx="388.62" cy="983.41" r="2.6" fill="none" stroke="#231f20" stroke-width="1.05"/>
<circle cx="381.97" cy="980.09" r="2.6" fill="none" stroke="#231f20" stroke-width="1.05"/>
<circle cx="372.39" cy="976.76" r="2.6" fill="none" stroke="#231f20" stroke-width="1.05"/>
<circle cx="375.32" cy="983.41" r="2.6" fill="none" stroke="#231f20" stroke-width="1.05"/>
<circle cx="371.33" cy="981.41" r="2.6" fill="none" stroke="#231f20" stroke-width="1.05"/>
<circle cx="472.3" cy="909" r="2.6" fill="none" stroke="#231f20" stroke-width="1.05"/>
<rect x="308.5" y="857.7" width="188.8" height="196.45" fill="none" stroke="#231f20" stroke-width="1.15"/>
<line x1="334.5" y1="1054.15" x2="334.5" y2="1062.05" stroke="#231f20" stroke-width="1.15"/>
<line x1="300.6" y1="1026.66" x2="308.5" y2="1026.66" stroke="#231f20" stroke-width="1.15"/>
<text x="334.5" y="1080.35" font-size="16.7" text-anchor="middle">0.5</text>
<text x="291.6" y="1026.66" font-size="16.7" text-anchor="middle" transform="rotate(-90 291.6 1026.66)">0.5</text>
<line x1="373.45" y1="1054.15" x2="373.45" y2="1062.05" stroke="#231f20" stroke-width="1.15"/>
<line x1="300.6" y1="986.24" x2="308.5" y2="986.24" stroke="#231f20" stroke-width="1.15"/>
<text x="373.45" y="1080.35" font-size="16.7" text-anchor="middle">0.6</text>
<text x="291.6" y="986.24" font-size="16.7" text-anchor="middle" transform="rotate(-90 291.6 986.24)">0.6</text>
<line x1="412.4" y1="1054.15" x2="412.4" y2="1062.05" stroke="#231f20" stroke-width="1.15"/>
<line x1="300.6" y1="945.82" x2="308.5" y2="945.82" stroke="#231f20" stroke-width="1.15"/>
<text x="412.4" y="1080.35" font-size="16.7" text-anchor="middle">0.7</text>
<text x="291.6" y="945.82" font-size="16.7" text-anchor="middle" transform="rotate(-90 291.6 945.82)">0.7</text>
<line x1="451.35" y1="1054.15" x2="451.35" y2="1062.05" stroke="#231f20" stroke-width="1.15"/>
<line x1="300.6" y1="905.4" x2="308.5" y2="905.4" stroke="#231f20" stroke-width="1.15"/>
<text x="451.35" y="1080.35" font-size="16.7" text-anchor="middle">0.8</text>
<text x="291.6" y="905.4" font-size="16.7" text-anchor="middle" transform="rotate(-90 291.6 905.4)">0.8</text>
<line x1="490.3" y1="1054.15" x2="490.3" y2="1062.05" stroke="#231f20" stroke-width="1.15"/>
<line x1="300.6" y1="864.98" x2="308.5" y2="864.98" stroke="#231f20" stroke-width="1.15"/>
<text x="490.3" y="1080.35" font-size="16.7" text-anchor="middle">0.9</text>
<text x="291.6" y="864.98" font-size="16.7" text-anchor="middle" transform="rotate(-90 291.6 864.98)">0.9</text>
<text x="322.5" y="885.8" font-size="16.7" text-anchor="start">% ancestral fossils</text>
<text x="410" y="1042.85" font-size="16.7" text-anchor="middle">True</text>
<path d="M598.77 1024V1033.5 M598.77 1047V1040.75" fill="none" stroke="#1a1a1a" stroke-width="1.25" stroke-dasharray="4.6 4.55" stroke-dashoffset="0.5"/>
<line x1="587.1" y1="1024" x2="610.43" y2="1024" stroke="#1a1a1a" stroke-width="1.3" stroke-linecap="round"/>
<line x1="587.1" y1="1047" x2="610.43" y2="1047" stroke="#1a1a1a" stroke-width="1.3" stroke-linecap="round"/>
<rect x="575.43" y="1033.5" width="46.67" height="7.25" fill="#646464" stroke="#1a1a1a" stroke-width="1.35"/>
<line x1="575.43" y1="1037.5" x2="622.1" y2="1037.5" stroke="#161616" stroke-width="3.8"/>
<circle cx="598.77" cy="1018.75" r="1.65" fill="none" stroke="#231f20" stroke-width="1.2"/>
<circle cx="598.77" cy="1020.75" r="1.65" fill="none" stroke="#231f20" stroke-width="1.2"/>
<line x1="598.77" y1="1054.15" x2="598.77" y2="1062.05" stroke="#231f20" stroke-width="1.15"/>
<text x="599.27" y="1080.35" font-size="16.7" text-anchor="middle" font-style="italic">d</text>
<path d="M657.1 864.75V883.25 M657.1 962.5V916" fill="none" stroke="#1a1a1a" stroke-width="1.25" stroke-dasharray="4.6 4.55" stroke-dashoffset="0.5"/>
<line x1="645.43" y1="864.75" x2="668.77" y2="864.75" stroke="#1a1a1a" stroke-width="1.3" stroke-linecap="round"/>
<line x1="645.43" y1="962.5" x2="668.77" y2="962.5" stroke="#1a1a1a" stroke-width="1.3" stroke-linecap="round"/>
<rect x="633.77" y="883.25" width="46.67" height="32.75" fill="#646464" stroke="#1a1a1a" stroke-width="1.35"/>
<line x1="633.77" y1="895.75" x2="680.43" y2="895.75" stroke="#161616" stroke-width="3.8"/>
<circle cx="657.1" cy="971.5" r="1.65" fill="none" stroke="#231f20" stroke-width="1.2"/>
<circle cx="657.1" cy="994.75" r="1.65" fill="none" stroke="#231f20" stroke-width="1.2"/>
<line x1="657.1" y1="1054.15" x2="657.1" y2="1062.05" stroke="#231f20" stroke-width="1.15"/>
<text x="657.6" y="1080.35" font-size="16.7" text-anchor="middle" font-style="italic">r</text>
<path d="M715.43 926V956.5 M715.43 1001.5V982.25" fill="none" stroke="#1a1a1a" stroke-width="1.25" stroke-dasharray="4.6 4.55" stroke-dashoffset="0.5"/>
<line x1="703.77" y1="926" x2="727.1" y2="926" stroke="#1a1a1a" stroke-width="1.3" stroke-linecap="round"/>
<line x1="703.77" y1="1001.5" x2="727.1" y2="1001.5" stroke="#1a1a1a" stroke-width="1.3" stroke-linecap="round"/>
<rect x="692.1" y="956.5" width="46.67" height="25.75" fill="#868686" stroke="#1a1a1a" stroke-width="1.35"/>
<line x1="692.1" y1="968.75" x2="738.77" y2="968.75" stroke="#161616" stroke-width="3.8"/>
<circle cx="715.43" cy="914.75" r="1.65" fill="none" stroke="#231f20" stroke-width="1.2"/>
<line x1="715.43" y1="1054.15" x2="715.43" y2="1062.05" stroke="#231f20" stroke-width="1.15"/>
<text x="715.93" y="1080.35" font-size="16.7" text-anchor="middle" font-style="italic">s</text>
<line x1="561.55" y1="1034.5" x2="752" y2="1034.5" stroke="#5c5c5c" stroke-width="1.3" stroke-dasharray="4.0 2.155"/>
<line x1="561.55" y1="976.1" x2="752" y2="976.1" stroke="#5c5c5c" stroke-width="1.3" stroke-dasharray="4.0 2.155"/>
<line x1="561.55" y1="892.5" x2="752" y2="892.5" stroke="#5c5c5c" stroke-width="1.3" stroke-dasharray="4.0 2.155"/>
<rect x="562.6" y="857.7" width="189" height="196.45" fill="none" stroke="#231f20" stroke-width="1.15"/>
<line x1="554.7" y1="859" x2="562.6" y2="859" stroke="#231f20" stroke-width="1.15"/>
<line x1="554.7" y1="892.5" x2="562.6" y2="892.5" stroke="#231f20" stroke-width="1.15"/>
<line x1="554.7" y1="934.3" x2="562.6" y2="934.3" stroke="#231f20" stroke-width="1.15"/>
<line x1="554.7" y1="976.1" x2="562.6" y2="976.1" stroke="#231f20" stroke-width="1.15"/>
<line x1="554.7" y1="1009.4" x2="562.6" y2="1009.4" stroke="#231f20" stroke-width="1.15"/>
<line x1="554.7" y1="1034.5" x2="562.6" y2="1034.5" stroke="#231f20" stroke-width="1.15"/>
<text x="545.7" y="1034.5" font-size="16.7" text-anchor="middle" transform="rotate(-90 545.7 1034.5)">0.1</text>
<text x="545.7" y="976.1" font-size="16.7" text-anchor="middle" transform="rotate(-90 545.7 976.1)">0.33</text>
<text x="545.7" y="892.5" font-size="16.7" text-anchor="middle" transform="rotate(-90 545.7 892.5)">0.67</text>
</svg>
</body>
</html>
